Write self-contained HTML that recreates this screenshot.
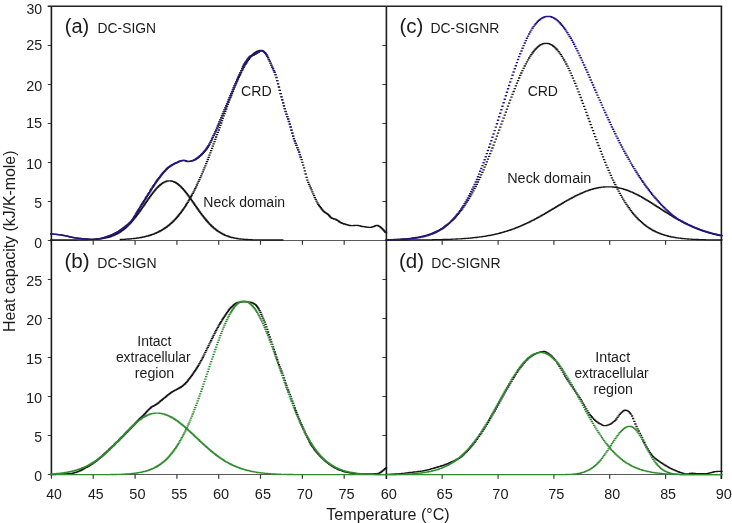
<!DOCTYPE html>
<html><head><meta charset="utf-8"><style>
html,body{margin:0;padding:0;background:#fff;overflow:hidden;width:732px;height:523px;}
svg{display:block;}
text{font-family:"Liberation Sans",sans-serif;fill:#1a1a1a;}
</style></head><body>
<svg width="732" height="523" viewBox="0 0 732 523">
<rect width="732" height="523" fill="#fff"/>
<path d="M51.4 240.5H721.4M51.4 474.5H721.4" stroke="#5a5a5a" stroke-width="1.05" fill="none"/>
<path d="M47.8 240.5H51.4M47.8 201.5H51.4M47.8 162.5H51.4M47.8 123.5H51.4M47.8 84.5H51.4M47.8 45.5H51.4M47.8 6.5H51.4M47.8 474.5H51.4M47.8 435.5H51.4M47.8 396.5H51.4M47.8 357.5H51.4M47.8 318.5H51.4M47.8 279.5H51.4M47.8 240.5H51.4M382.4 201.5H386.4M382.4 162.5H386.4M382.4 123.5H386.4M382.4 84.5H386.4M382.4 45.5H386.4M382.4 435.5H386.4M382.4 396.5H386.4M382.4 357.5H386.4M382.4 318.5H386.4M382.4 279.5H386.4M51.4 240.5V244.7M93.2 240.5V244.7M135.1 240.5V244.7M176.9 240.5V244.7M218.7 240.5V244.7M260.5 240.5V244.7M302.4 240.5V244.7M344.2 240.5V244.7M442.2 240.5V244.7M498.1 240.5V244.7M553.9 240.5V244.7M609.7 240.5V244.7M665.6 240.5V244.7M721.4 240.5V244.7M51.4 474.5V478.7M93.2 474.5V478.7M135.1 474.5V478.7M176.9 474.5V478.7M218.7 474.5V478.7M260.5 474.5V478.7M302.4 474.5V478.7M344.2 474.5V478.7M442.2 474.5V478.7M498.1 474.5V478.7M553.9 474.5V478.7M609.7 474.5V478.7M665.6 474.5V478.7M721.4 474.5V478.7" stroke="#3a3a3a" stroke-width="1.2" fill="none"/>
<path d="M51.4 6.3V475.0M386.4 6.3V478.9M721.4 6.3V478.9" stroke="#1c1c1c" stroke-width="1.6" fill="none"/>
<path d="M47.8 6.3H722.1999999999999" stroke="#222" stroke-width="1.5" fill="none"/>
<path d="M50.2 234.0h2.3M51.1 234.1h2.3M51.9 234.1h2.3M52.8 234.2h2.3M53.6 234.2h2.3M54.4 234.3h2.3M55.3 234.4h2.3M56.1 234.5h2.3M56.9 234.6h2.3M57.8 234.7h2.3M58.6 234.8h2.3M59.5 234.9h2.3M60.3 235.0h2.3M61.1 235.2h2.3M62.0 235.3h2.3M62.8 235.5h2.3M63.6 235.6h2.3M64.5 235.8h2.3M65.3 236.0h2.3M66.1 236.2h2.3M67.0 236.4h2.3M67.8 236.6h2.3M68.7 236.8h2.3M69.5 237.0h2.3M70.3 237.2h2.3M71.2 237.4h2.3M72.0 237.5h2.3M72.8 237.7h2.3M73.7 237.8h2.3M74.5 237.9h2.3M75.3 238.0h2.3M76.2 238.1h2.3M77.0 238.2h2.3M77.9 238.3h2.3M78.7 238.4h2.3M79.5 238.5h2.3M80.4 238.6h2.3M81.2 238.7h2.3M82.0 238.8h2.3M82.9 238.8h2.3M83.7 238.9h2.3M84.5 238.9h2.3M85.4 239.0h2.3M86.2 239.1h2.3M87.1 239.1h2.3M87.9 239.2h2.3M88.7 239.2h2.3M89.6 239.3h2.3M90.4 239.3h2.3M91.2 239.3h2.3M92.1 239.3h2.3M92.9 239.3h2.3M93.7 239.2h2.3M94.6 239.1h2.3M95.4 239.1h2.3M96.3 239.0h2.3M97.1 238.9h2.3M97.9 238.8h2.3M98.8 238.6h2.3M99.6 238.5h2.3M100.4 238.3h2.3M101.3 238.1h2.3M102.1 237.9h2.3M102.9 237.7h2.3M103.8 237.4h2.3M104.6 237.1h2.3M105.5 236.8h2.3M106.3 236.5h2.3M107.1 236.2h2.3M108.0 235.9h2.3M108.8 235.6h2.3M109.6 235.3h2.3M110.5 234.9h2.3M111.3 234.6h2.3M112.2 234.2h2.3M113.0 233.8h2.3M113.8 233.4h2.3M114.7 233.0h2.3M115.5 232.6h2.3M116.3 232.1h2.3M117.2 231.6h2.3M118.0 231.1h2.3M118.8 230.5h2.3M119.7 230.0h2.3M120.5 229.4h2.3M121.4 228.7h2.3M122.2 228.1h2.3M123.0 227.5h2.3M123.9 226.8h2.3M124.7 226.2h2.3M125.5 225.5h2.3M126.4 224.9h2.3M127.2 224.2h2.3M128.0 223.4h2.3M128.9 222.6h2.3M129.7 221.7h2.3M130.6 220.8h2.3M131.4 219.6h2.3M132.2 218.4h2.3M133.1 217.0h2.3M133.9 215.6h2.3M134.7 214.2h2.3M135.6 212.8h2.3M136.4 211.4h2.3M137.2 210.1h2.3M138.1 208.8h2.3M138.9 207.4h2.3M139.8 206.1h2.3M140.6 204.7h2.3M141.4 203.4h2.3M142.3 202.0h2.3M143.1 200.7h2.3M143.9 199.3h2.3M144.8 198.0h2.3M145.6 196.6h2.3M146.4 195.3h2.3M147.3 193.9h2.3M148.1 192.6h2.3M149.0 191.2h2.3M149.8 189.9h2.3M150.6 188.6h2.3M151.5 187.3h2.3M152.3 186.0h2.3M153.1 184.8h2.3M154.0 183.5h2.3M154.8 182.3h2.3M155.6 181.1h2.3M156.5 179.9h2.3M157.3 178.8h2.3M158.2 177.6h2.3M159.0 176.6h2.3M159.8 175.5h2.3M160.7 174.5h2.3M161.5 173.5h2.3M162.3 172.5h2.3M163.2 171.5h2.3M164.0 170.6h2.3M164.9 169.7h2.3M165.7 168.9h2.3M166.5 168.1h2.3M167.4 167.4h2.3M168.2 166.8h2.3M169.0 166.2h2.3M169.9 165.7h2.3M170.7 165.1h2.3M171.5 164.6h2.3M172.4 164.2h2.3M173.2 163.7h2.3M174.1 163.3h2.3M174.9 162.9h2.3M175.7 162.6h2.3M176.6 162.2h2.3M177.4 161.8h2.3M178.2 161.4h2.3M179.1 161.1h2.3M179.9 160.8h2.3M180.7 160.6h2.3M181.6 160.5h2.3M182.4 160.4h2.3M183.3 160.5h2.3M184.1 160.7h2.3M184.9 161.0h2.3M185.8 161.3h2.3M186.6 161.5h2.3M187.4 161.5h2.3M188.3 161.4h2.3M189.1 161.3h2.3M189.9 161.1h2.3M190.8 160.8h2.3M191.6 160.6h2.3M192.5 160.3h2.3M193.3 159.9h2.3M194.1 159.5h2.3M195.0 159.0h2.3M195.8 158.4h2.3M196.6 157.8h2.3M197.5 157.1h2.3M198.3 156.4h2.3M199.1 155.7h2.3M200.0 154.9h2.3M200.8 154.1h2.3M201.7 153.3h2.3M202.5 152.4h2.3M203.3 151.4h2.3M204.2 150.4h2.3M205.0 149.4h2.3M205.8 148.2h2.3M206.7 147.0h2.3M207.5 145.6h2.3M208.3 144.1h2.3M209.2 142.4h2.3M210.0 140.7h2.3M210.9 139.0h2.3M211.7 137.3h2.3M212.5 135.5h2.3M213.4 133.8h2.3M214.2 131.9h2.3M215.0 130.1h2.3M215.9 128.1h2.3M216.7 126.0h2.3M217.6 124.0h2.3M218.4 121.9h2.3M219.2 119.8h2.3M220.1 117.8h2.3M220.9 115.8h2.3M221.7 113.8h2.3M222.6 111.8h2.3M223.4 109.8h2.3M224.2 107.8h2.3M225.1 105.9h2.3M225.9 103.9h2.3M226.8 101.9h2.3M227.6 99.9h2.3M228.4 97.9h2.3M229.3 95.9h2.3M230.1 93.9h2.3M230.9 91.9h2.3M231.8 89.8h2.3M232.6 87.8h2.3M233.4 85.8h2.3M234.3 83.8h2.3M235.1 81.9h2.3M236.0 80.0h2.3M236.8 78.1h2.3M237.6 76.3h2.3M238.5 74.5h2.3M239.3 72.7h2.3M240.1 70.7h2.3M241.0 68.7h2.3M241.8 66.9h2.3M242.6 65.2h2.3M243.5 63.8h2.3M244.3 62.4h2.3M245.2 61.2h2.3M246.0 60.1h2.3M246.8 59.0h2.3M247.7 57.9h2.3M248.5 56.9h2.3M249.3 56.2h2.3M250.2 55.8h2.3M251.0 55.5h2.3M251.8 55.2h2.3M252.7 54.9h2.3M253.5 54.4h2.3M254.4 53.9h2.3M255.2 53.4h2.3M256.0 52.9h2.3M256.9 52.4h2.3M257.7 51.9h2.3M258.5 51.4h2.3M259.4 51.0h2.3M260.2 50.7h2.3M261.0 50.7h2.3M261.9 51.1h2.3M262.7 51.7h2.3M263.6 52.5h2.3M264.4 53.4h2.3M265.2 54.6h2.3M266.1 56.1h2.3M266.9 57.7h2.3M267.7 59.5h2.3M268.6 61.2h2.3M269.4 63.2h2.3M270.2 65.2h2.3M271.1 67.1h2.3M271.9 68.8h2.3M272.8 70.6h2.3M273.6 72.4h2.3M274.4 74.7h2.3M275.3 77.5h2.3M276.1 80.7h2.3M276.9 83.8h2.3M277.8 87.0h2.3M278.6 90.3h2.3M279.5 93.6h2.3M280.3 96.8h2.3M281.1 99.9h2.3M282.0 102.9h2.3M282.8 105.9h2.3M283.6 108.7h2.3M284.5 111.5h2.3M285.3 114.2h2.3M286.1 116.6h2.3M287.0 119.0h2.3M287.8 121.5h2.3M288.7 124.1h2.3M289.5 127.0h2.3M290.3 130.1h2.3M291.2 133.1h2.3M292.0 136.1h2.3M292.8 138.7h2.3M293.7 141.0h2.3M294.5 143.3h2.3M295.3 145.4h2.3M296.2 147.6h2.3M297.0 149.8h2.3M297.9 152.1h2.3M298.7 154.6h2.3M299.5 157.1h2.3M300.4 159.7h2.3M301.2 162.4h2.3M302.0 165.1h2.3M302.9 167.9h2.3M303.7 170.8h2.3M304.5 174.0h2.3M305.4 177.3h2.3M306.2 180.2h2.3M307.1 182.4h2.3M307.9 184.4h2.3M308.7 186.2h2.3M309.6 188.0h2.3M310.4 189.9h2.3M311.2 191.8h2.3M312.1 193.8h2.3M312.9 195.7h2.3M313.7 197.6h2.3M314.6 199.4h2.3M315.4 201.2h2.3M316.3 202.8h2.3M317.1 204.3h2.3M317.9 205.5h2.3M318.8 206.6h2.3M319.6 207.7h2.3M320.4 208.8h2.3M321.3 209.8h2.3M322.1 210.8h2.3M322.9 211.6h2.3M323.8 212.3h2.3M324.6 212.9h2.3M325.5 213.4h2.3M326.3 214.0h2.3M327.1 214.6h2.3M328.0 215.5h2.3M328.8 216.5h2.3M329.6 217.4h2.3M330.5 218.0h2.3M331.3 218.4h2.3M332.2 218.7h2.3M333.0 219.0h2.3M333.8 219.2h2.3M334.7 219.5h2.3M335.5 219.9h2.3M336.3 220.4h2.3M337.2 220.9h2.3M338.0 221.5h2.3M338.8 222.1h2.3M339.7 222.6h2.3M340.5 223.0h2.3M341.4 223.3h2.3M342.2 223.6h2.3M343.0 224.0h2.3M343.9 224.2h2.3M344.7 224.5h2.3M345.5 224.7h2.3M346.4 224.9h2.3M347.2 225.1h2.3M348.0 225.3h2.3M348.9 225.5h2.3M349.7 225.6h2.3M350.6 225.7h2.3M351.4 225.7h2.3M352.2 225.6h2.3M353.1 225.5h2.3M353.9 225.4h2.3M354.7 225.3h2.3M355.6 225.3h2.3M356.4 225.4h2.3M357.2 225.6h2.3M358.1 225.7h2.3M358.9 225.9h2.3M359.8 226.1h2.3M360.6 226.3h2.3M361.4 226.5h2.3M362.3 226.6h2.3M363.1 226.7h2.3M363.9 226.9h2.3M364.8 227.0h2.3M365.6 227.1h2.3M366.4 227.2h2.3M367.3 227.3h2.3M368.1 227.4h2.3M369.0 227.4h2.3M369.8 227.4h2.3M370.6 227.2h2.3M371.5 226.9h2.3M372.3 226.6h2.3M373.1 226.3h2.3M374.0 225.9h2.3M374.8 225.7h2.3M375.6 225.5h2.3M376.5 225.5h2.3M377.3 225.8h2.3M378.2 226.3h2.3M379.0 226.9h2.3M379.8 227.6h2.3M380.7 228.3h2.3M381.5 229.1h2.3M382.3 230.0h2.3M383.2 231.0h2.3M384.0 232.0h2.3M384.9 232.5h2.3" stroke="#161616" stroke-width="1.3" fill="none"/>
<path d="M50.2 240.0h2.3M51.1 240.0h2.3M51.9 240.0h2.3M52.8 240.0h2.3M53.6 240.0h2.3M54.4 240.0h2.3M55.3 240.0h2.3M56.1 240.0h2.3M56.9 240.0h2.3M57.8 240.0h2.3M58.6 240.0h2.3M59.5 240.0h2.3M60.3 240.0h2.3M61.1 240.0h2.3M62.0 240.0h2.3M62.8 240.0h2.3M63.6 240.0h2.3M64.5 240.0h2.3M65.3 240.0h2.3M66.1 240.0h2.3M67.0 240.0h2.3M67.8 240.0h2.3M68.7 240.0h2.3M69.5 240.0h2.3M70.3 240.0h2.3M71.2 240.0h2.3M72.0 240.0h2.3M72.8 240.0h2.3M73.7 240.0h2.3M74.5 240.0h2.3M75.3 240.0h2.3M76.2 239.9h2.3M77.0 239.9h2.3M77.9 239.9h2.3M78.7 239.9h2.3M79.5 239.9h2.3M80.4 239.9h2.3M81.2 239.9h2.3M82.0 239.9h2.3M82.9 239.9h2.3M83.7 239.8h2.3M84.5 239.8h2.3M85.4 239.8h2.3M86.2 239.8h2.3M87.1 239.7h2.3M87.9 239.7h2.3M88.7 239.7h2.3M89.6 239.6h2.3M90.4 239.6h2.3M91.2 239.5h2.3M92.1 239.5h2.3M92.9 239.4h2.3M93.7 239.4h2.3M94.6 239.3h2.3M95.4 239.2h2.3M96.3 239.2h2.3M97.1 239.1h2.3M97.9 239.0h2.3M98.8 238.9h2.3M99.6 238.8h2.3M100.4 238.7h2.3M101.3 238.5h2.3M102.1 238.4h2.3M102.9 238.2h2.3M103.8 238.1h2.3M104.6 237.9h2.3M105.5 237.7h2.3M106.3 237.5h2.3M107.1 237.3h2.3M108.0 237.0h2.3M108.8 236.8h2.3M109.6 236.5h2.3M110.5 236.2h2.3M111.3 235.9h2.3M112.2 235.6h2.3M113.0 235.2h2.3M113.8 234.8h2.3M114.7 234.4h2.3M115.5 234.0h2.3M116.3 233.6h2.3M117.2 233.1h2.3M118.0 232.6h2.3M118.8 232.1h2.3M119.7 231.5h2.3M120.5 230.9h2.3M121.4 230.3h2.3M122.2 229.7h2.3M123.0 229.0h2.3M123.9 228.3h2.3M124.7 227.6h2.3M125.5 226.9h2.3M126.4 226.1h2.3M127.2 225.2h2.3M128.0 224.4h2.3M128.9 223.5h2.3M129.7 222.6h2.3M130.6 221.7h2.3M131.4 220.7h2.3M132.2 219.7h2.3M133.1 218.7h2.3M133.9 217.7h2.3M134.7 216.6h2.3M135.6 215.5h2.3M136.4 214.4h2.3M137.2 213.3h2.3M138.1 212.1h2.3M138.9 211.0h2.3M139.8 209.8h2.3M140.6 208.6h2.3M141.4 207.4h2.3M142.3 206.2h2.3M143.1 205.0h2.3M143.9 203.8h2.3M144.8 202.5h2.3M145.6 201.3h2.3M146.4 200.1h2.3M147.3 198.9h2.3M148.1 197.8h2.3M149.0 196.6h2.3M149.8 195.4h2.3M150.6 194.3h2.3M151.5 193.2h2.3M152.3 192.2h2.3M153.1 191.1h2.3M154.0 190.1h2.3M154.8 189.2h2.3M155.6 188.2h2.3M156.5 187.4h2.3M157.3 186.5h2.3M158.2 185.7h2.3M159.0 185.0h2.3M159.8 184.3h2.3M160.7 183.7h2.3M161.5 183.1h2.3M162.3 182.6h2.3M163.2 182.2h2.3M164.0 181.8h2.3M164.9 181.5h2.3M165.7 181.2h2.3M166.5 181.0h2.3M167.4 180.9h2.3M168.2 180.9h2.3M169.0 180.9h2.3M169.9 181.0h2.3M170.7 181.1h2.3M171.5 181.4h2.3M172.4 181.6h2.3M173.2 182.0h2.3M174.1 182.4h2.3M174.9 182.9h2.3M175.7 183.4h2.3M176.6 184.0h2.3M177.4 184.6h2.3M178.2 185.3h2.3M179.1 186.1h2.3M179.9 186.9h2.3M180.7 187.8h2.3M181.6 188.7h2.3M182.4 189.6h2.3M183.3 190.6h2.3M184.1 191.6h2.3M184.9 192.6h2.3M185.8 193.7h2.3M186.6 194.8h2.3M187.4 195.9h2.3M188.3 197.1h2.3M189.1 198.2h2.3M189.9 199.4h2.3M190.8 200.6h2.3M191.6 201.8h2.3M192.5 203.0h2.3M193.3 204.2h2.3M194.1 205.4h2.3M195.0 206.6h2.3M195.8 207.8h2.3M196.6 209.0h2.3M197.5 210.2h2.3M198.3 211.4h2.3M199.1 212.5h2.3M200.0 213.7h2.3M200.8 214.8h2.3M201.7 215.9h2.3M202.5 216.9h2.3M203.3 218.0h2.3M204.2 219.0h2.3M205.0 220.0h2.3M205.8 221.0h2.3M206.7 222.0h2.3M207.5 222.9h2.3M208.3 223.8h2.3M209.2 224.6h2.3M210.0 225.5h2.3M210.9 226.3h2.3M211.7 227.0h2.3M212.5 227.8h2.3M213.4 228.5h2.3M214.2 229.2h2.3M215.0 229.8h2.3M215.9 230.5h2.3M216.7 231.1h2.3M217.6 231.6h2.3M218.4 232.2h2.3M219.2 232.7h2.3M220.1 233.2h2.3M220.9 233.7h2.3M221.7 234.1h2.3M222.6 234.5h2.3M223.4 234.9h2.3M224.2 235.3h2.3M225.1 235.6h2.3M225.9 235.9h2.3M226.8 236.2h2.3M227.6 236.5h2.3M228.4 236.8h2.3M229.3 237.1h2.3M230.1 237.3h2.3M230.9 237.5h2.3M231.8 237.7h2.3M232.6 237.9h2.3M233.4 238.1h2.3M234.3 238.2h2.3M235.1 238.4h2.3M236.0 238.5h2.3M236.8 238.7h2.3M237.6 238.8h2.3M238.5 238.9h2.3M239.3 239.0h2.3M240.1 239.1h2.3M241.0 239.2h2.3M241.8 239.2h2.3M242.6 239.3h2.3M243.5 239.4h2.3M244.3 239.4h2.3M245.2 239.5h2.3M246.0 239.5h2.3M246.8 239.6h2.3M247.7 239.6h2.3M248.5 239.7h2.3M249.3 239.7h2.3M250.2 239.7h2.3M251.0 239.8h2.3M251.8 239.8h2.3M252.7 239.8h2.3M253.5 239.8h2.3M254.4 239.9h2.3M255.2 239.9h2.3M256.0 239.9h2.3M256.9 239.9h2.3M257.7 239.9h2.3M258.5 239.9h2.3M259.4 239.9h2.3M260.2 239.9h2.3M261.0 239.9h2.3M261.9 239.9h2.3M262.7 240.0h2.3M263.6 240.0h2.3M264.4 240.0h2.3M265.2 240.0h2.3M266.1 240.0h2.3M266.9 240.0h2.3M267.7 240.0h2.3M268.6 240.0h2.3M269.4 240.0h2.3M270.2 240.0h2.3M271.1 240.0h2.3M271.9 240.0h2.3M272.8 240.0h2.3M273.6 240.0h2.3M274.4 240.0h2.3M275.3 240.0h2.3M276.1 240.0h2.3M276.9 240.0h2.3M277.8 240.0h2.3M278.6 240.0h2.3M279.5 240.0h2.3M280.3 240.0h2.3M281.1 240.0h2.3" stroke="#161616" stroke-width="1.3" fill="none"/>
<path d="M119.7 239.5h2.3M120.5 239.4h2.3M121.4 239.4h2.3M122.2 239.3h2.3M123.0 239.3h2.3M123.9 239.3h2.3M124.7 239.2h2.3M125.5 239.1h2.3M126.4 239.1h2.3M127.2 239.0h2.3M128.0 239.0h2.3M128.9 238.9h2.3M129.7 238.8h2.3M130.6 238.7h2.3M131.4 238.6h2.3M132.2 238.6h2.3M133.1 238.5h2.3M133.9 238.4h2.3M134.7 238.3h2.3M135.6 238.1h2.3M136.4 238.0h2.3M137.2 237.9h2.3M138.1 237.8h2.3M138.9 237.6h2.3M139.8 237.5h2.3M140.6 237.3h2.3M141.4 237.2h2.3M142.3 237.0h2.3M143.1 236.8h2.3M143.9 236.6h2.3M144.8 236.4h2.3M145.6 236.2h2.3M146.4 236.0h2.3M147.3 235.8h2.3M148.1 235.5h2.3M149.0 235.3h2.3M149.8 235.0h2.3M150.6 234.7h2.3M151.5 234.4h2.3M152.3 234.1h2.3M153.1 233.8h2.3M154.0 233.4h2.3M154.8 233.1h2.3M155.6 232.7h2.3M156.5 232.3h2.3M157.3 231.9h2.3M158.2 231.5h2.3M159.0 231.0h2.3M159.8 230.6h2.3M160.7 230.1h2.3M161.5 229.6h2.3M162.3 229.1h2.3M163.2 228.5h2.3M164.0 228.0h2.3M164.9 227.4h2.3M165.7 226.8h2.3M166.5 226.1h2.3M167.4 225.5h2.3M168.2 224.8h2.3M169.0 224.1h2.3M169.9 223.4h2.3M170.7 222.6h2.3M171.5 221.8h2.3M172.4 221.0h2.3M173.2 220.1h2.3M174.1 219.3h2.3M174.9 218.4h2.3M175.7 217.4h2.3M176.6 216.5h2.3M177.4 215.5h2.3M178.2 214.4h2.3M179.1 213.4h2.3M179.9 212.3h2.3M180.7 211.2h2.3M181.6 210.0h2.3M182.4 208.8h2.3M183.3 207.6h2.3M184.1 206.3h2.3M184.9 205.0h2.3M185.8 203.7h2.3M186.6 202.3h2.3M187.4 200.9h2.3M188.3 199.5h2.3M189.1 198.0h2.3M189.9 196.5h2.3M190.8 195.0h2.3M191.6 193.4h2.3M192.5 191.8h2.3M193.3 190.2h2.3M194.1 188.5h2.3M195.0 186.8h2.3M195.8 185.0h2.3M196.6 183.2h2.3M197.5 181.4h2.3M198.3 179.6h2.3M199.1 177.7h2.3M200.0 175.8h2.3M200.8 173.9h2.3M201.7 171.9h2.3M202.5 169.9h2.3M203.3 167.8h2.3M204.2 165.8h2.3M205.0 163.7h2.3M205.8 161.6h2.3M206.7 159.5h2.3M207.5 157.3h2.3M208.3 155.1h2.3M209.2 152.9h2.3M210.0 150.7h2.3M210.9 148.4h2.3M211.7 146.2h2.3M212.5 143.9h2.3M213.4 141.6h2.3M214.2 139.3h2.3M215.0 137.0h2.3M215.9 134.7h2.3M216.7 132.3h2.3M217.6 130.0h2.3M218.4 127.6h2.3M219.2 125.3h2.3M220.1 123.0h2.3M220.9 120.6h2.3M221.7 118.3h2.3M222.6 115.9h2.3M223.4 113.6h2.3M224.2 111.3h2.3M225.1 109.0h2.3M225.9 106.7h2.3M226.8 104.4h2.3M227.6 102.2h2.3M228.4 99.9h2.3M229.3 97.7h2.3M230.1 95.5h2.3M230.9 93.4h2.3M231.8 91.3h2.3M232.6 89.2h2.3M233.4 87.1h2.3M234.3 85.1h2.3M235.1 83.1h2.3M236.0 81.1h2.3M236.8 79.2h2.3M237.6 77.4h2.3M238.5 75.6h2.3M239.3 73.8h2.3M240.1 72.1h2.3M241.0 70.4h2.3M241.8 68.8h2.3M242.6 67.3h2.3M243.5 65.8h2.3M244.3 64.3h2.3M245.2 63.0h2.3M246.0 61.7h2.3M246.8 60.4h2.3M247.7 59.3h2.3M248.5 58.1h2.3M249.3 57.1h2.3M250.2 56.1h2.3M251.0 55.3h2.3M251.8 54.4h2.3M252.7 53.7h2.3M253.5 53.0h2.3M254.4 52.4h2.3M255.2 51.9h2.3M256.0 51.4h2.3M256.9 51.1h2.3M257.7 50.8h2.3M258.5 50.6h2.3M259.4 50.5h2.3M260.2 50.4h2.3" stroke="#161616" stroke-width="1.3" fill="none"/>
<path d="M50.2 234.0h2.3M51.1 234.1h2.3M51.9 234.1h2.3M52.8 234.2h2.3M53.6 234.2h2.3M54.4 234.3h2.3M55.3 234.4h2.3M56.1 234.5h2.3M56.9 234.6h2.3M57.8 234.7h2.3M58.6 234.8h2.3M59.5 234.9h2.3M60.3 235.0h2.3M61.1 235.2h2.3M62.0 235.3h2.3M62.8 235.5h2.3M63.6 235.6h2.3M64.5 235.8h2.3M65.3 236.0h2.3M66.1 236.2h2.3M67.0 236.4h2.3M67.8 236.6h2.3M68.7 236.8h2.3M69.5 237.0h2.3M70.3 237.2h2.3M71.2 237.4h2.3M72.0 237.5h2.3M72.8 237.7h2.3M73.7 237.8h2.3M74.5 237.9h2.3M75.3 238.0h2.3M76.2 238.1h2.3M77.0 238.2h2.3M77.9 238.3h2.3M78.7 238.4h2.3M79.5 238.5h2.3M80.4 238.6h2.3M81.2 238.7h2.3M82.0 238.8h2.3M82.9 238.8h2.3M83.7 238.9h2.3M84.5 238.9h2.3M85.4 239.0h2.3M86.2 239.1h2.3M87.1 239.1h2.3M87.9 239.2h2.3M88.7 239.2h2.3M89.6 239.3h2.3M90.4 239.3h2.3M91.2 239.3h2.3M92.1 239.3h2.3M92.9 239.3h2.3M93.7 239.2h2.3M94.6 239.1h2.3M95.4 239.1h2.3M96.3 239.0h2.3M97.1 238.9h2.3M97.9 238.8h2.3M98.8 238.6h2.3M99.6 238.5h2.3M100.4 238.3h2.3M101.3 238.1h2.3M102.1 237.9h2.3M102.9 237.7h2.3M103.8 237.4h2.3M104.6 237.1h2.3M105.5 236.8h2.3M106.3 236.5h2.3M107.1 236.2h2.3M108.0 235.9h2.3M108.8 235.6h2.3M109.6 235.3h2.3M110.5 234.9h2.3M111.3 234.6h2.3M112.2 234.2h2.3M113.0 233.8h2.3M113.8 233.4h2.3M114.7 233.0h2.3M115.5 232.6h2.3M116.3 232.1h2.3M117.2 231.6h2.3M118.0 231.1h2.3M118.8 230.5h2.3M119.7 230.0h2.3M120.5 229.4h2.3M121.4 228.7h2.3M122.2 228.1h2.3M123.0 227.5h2.3M123.9 226.8h2.3M124.7 226.2h2.3M125.5 225.5h2.3M126.4 224.9h2.3M127.2 224.2h2.3M128.0 223.4h2.3M128.9 222.6h2.3M129.7 221.7h2.3M130.6 220.8h2.3M131.4 219.6h2.3M132.2 218.4h2.3M133.1 217.0h2.3M133.9 215.6h2.3M134.7 214.2h2.3M135.6 212.8h2.3M136.4 211.4h2.3M137.2 210.1h2.3M138.1 208.8h2.3M138.9 207.4h2.3M139.8 206.1h2.3M140.6 204.7h2.3M141.4 203.4h2.3M142.3 202.0h2.3M143.1 200.7h2.3M143.9 199.3h2.3M144.8 198.0h2.3M145.6 196.6h2.3M146.4 195.3h2.3M147.3 193.9h2.3M148.1 192.6h2.3M149.0 191.2h2.3M149.8 189.9h2.3M150.6 188.6h2.3M151.5 187.3h2.3M152.3 186.0h2.3M153.1 184.8h2.3M154.0 183.5h2.3M154.8 182.3h2.3M155.6 181.1h2.3M156.5 179.9h2.3M157.3 178.8h2.3M158.2 177.6h2.3M159.0 176.6h2.3M159.8 175.5h2.3M160.7 174.5h2.3M161.5 173.5h2.3M162.3 172.5h2.3M163.2 171.5h2.3M164.0 170.6h2.3M164.9 169.7h2.3M165.7 168.9h2.3M166.5 168.1h2.3M167.4 167.4h2.3M168.2 166.8h2.3M169.0 166.2h2.3M169.9 165.7h2.3M170.7 165.1h2.3M171.5 164.6h2.3M172.4 164.2h2.3M173.2 163.7h2.3M174.1 163.3h2.3M174.9 162.9h2.3M175.7 162.6h2.3M176.6 162.2h2.3M177.4 161.8h2.3M178.2 161.4h2.3M179.1 161.1h2.3M179.9 160.8h2.3M180.7 160.6h2.3M181.6 160.5h2.3M182.4 160.4h2.3M183.3 160.5h2.3M184.1 160.7h2.3M184.9 161.0h2.3M185.8 161.3h2.3M186.6 161.5h2.3M187.4 161.5h2.3M188.3 161.4h2.3M189.1 161.3h2.3M189.9 161.1h2.3M190.8 160.8h2.3M191.6 160.6h2.3M192.5 160.3h2.3M193.3 159.9h2.3M194.1 159.5h2.3M195.0 159.0h2.3M195.8 158.4h2.3M196.6 157.8h2.3M197.5 157.1h2.3M198.3 156.4h2.3M199.1 155.7h2.3M200.0 154.9h2.3M200.8 154.1h2.3M201.7 153.3h2.3M202.5 152.4h2.3M203.3 151.4h2.3M204.2 150.4h2.3M205.0 149.4h2.3M205.8 148.2h2.3M206.7 147.0h2.3M207.5 145.6h2.3M208.3 144.1h2.3M209.2 142.4h2.3M210.0 140.7h2.3M210.9 139.0h2.3M211.7 137.3h2.3M212.5 135.5h2.3M213.4 133.8h2.3M214.2 131.9h2.3M215.0 130.1h2.3M215.9 128.1h2.3M216.7 126.0h2.3M217.6 124.0h2.3M218.4 121.9h2.3M219.2 119.8h2.3M220.1 117.8h2.3M220.9 115.8h2.3M221.7 113.8h2.3M222.6 111.8h2.3M223.4 109.8h2.3M224.2 107.8h2.3M225.1 105.9h2.3M225.9 103.9h2.3M226.8 101.9h2.3M227.6 99.9h2.3M228.4 97.9h2.3M229.3 95.9h2.3M230.1 93.9h2.3M230.9 91.9h2.3M231.8 89.8h2.3M232.6 87.8h2.3M233.4 85.8h2.3M234.3 83.8h2.3M235.1 81.9h2.3M236.0 80.0h2.3M236.8 78.1h2.3M237.6 76.3h2.3M238.5 74.5h2.3M239.3 72.7h2.3M240.1 70.7h2.3M241.0 68.7h2.3M241.8 66.9h2.3M242.6 65.2h2.3M243.5 63.8h2.3M244.3 62.4h2.3M245.2 61.2h2.3M246.0 60.1h2.3M246.8 59.0h2.3M247.7 57.9h2.3M248.5 56.9h2.3M249.3 56.2h2.3M250.2 55.8h2.3M251.0 55.5h2.3M251.8 55.2h2.3M252.7 54.9h2.3M253.5 54.4h2.3M254.4 53.9h2.3M255.2 53.4h2.3M256.0 52.9h2.3M256.9 52.4h2.3M257.7 51.9h2.3M258.5 51.4h2.3M259.4 51.0h2.3M260.2 50.7h2.3M261.0 50.7h2.3M261.9 51.1h2.3M262.7 51.7h2.3M263.6 52.5h2.3M264.4 53.4h2.3M265.2 54.6h2.3M266.1 56.1h2.3M266.9 57.7h2.3M267.7 59.5h2.3M268.6 61.2h2.3M269.4 63.2h2.3M270.2 65.2h2.3M271.1 67.1h2.3M271.9 68.8h2.3M272.8 70.6h2.3M273.6 72.4h2.3M274.4 74.7h2.3M275.3 77.5h2.3M276.1 80.7h2.3M276.9 83.8h2.3M277.8 87.0h2.3M278.6 90.3h2.3M279.5 93.6h2.3M280.3 96.8h2.3M281.1 99.9h2.3M282.0 102.9h2.3M282.8 105.9h2.3M283.6 108.7h2.3M284.5 111.5h2.3M285.3 114.2h2.3M286.1 116.6h2.3M287.0 119.0h2.3M287.8 121.5h2.3M288.7 124.1h2.3M289.5 127.0h2.3M290.3 130.1h2.3M291.2 133.1h2.3M292.0 136.1h2.3M292.8 138.7h2.3M293.7 141.0h2.3M294.5 143.3h2.3M295.3 145.4h2.3M296.2 147.6h2.3M297.0 149.8h2.3M297.9 152.1h2.3M298.7 154.6h2.3M299.5 157.1h2.3" stroke="#24148a" stroke-width="1.1" fill="none"/>
<path d="M385.2 240.0h2.3M386.4 240.0h2.3M387.5 240.0h2.3M388.6 240.0h2.3M389.7 240.0h2.3M390.8 240.0h2.3M392.0 240.0h2.3M393.1 240.0h2.3M394.2 240.0h2.3M395.3 240.0h2.3M396.4 240.0h2.3M397.5 240.0h2.3M398.7 240.0h2.3M399.8 240.0h2.3M400.9 240.0h2.3M402.0 240.0h2.3M403.1 240.0h2.3M404.2 240.0h2.3M405.4 240.0h2.3M406.5 240.0h2.3M407.6 239.9h2.3M408.7 239.9h2.3M409.8 239.9h2.3M410.9 239.9h2.3M412.1 239.9h2.3M413.2 239.9h2.3M414.3 239.9h2.3M415.4 239.9h2.3M416.5 239.9h2.3M417.6 239.9h2.3M418.8 239.9h2.3M419.9 239.9h2.3M421.0 239.9h2.3M422.1 239.9h2.3M423.2 239.8h2.3M424.3 239.8h2.3M425.5 239.8h2.3M426.6 239.8h2.3M427.7 239.8h2.3M428.8 239.8h2.3M429.9 239.8h2.3M431.0 239.8h2.3M432.2 239.7h2.3M433.3 239.7h2.3M434.4 239.7h2.3M435.5 239.7h2.3M436.6 239.7h2.3M437.7 239.6h2.3M438.9 239.6h2.3M440.0 239.6h2.3M441.1 239.6h2.3M442.2 239.5h2.3M443.3 239.5h2.3M444.4 239.5h2.3M445.6 239.4h2.3M446.7 239.4h2.3M447.8 239.3h2.3M448.9 239.3h2.3M450.0 239.3h2.3M451.1 239.2h2.3M452.3 239.2h2.3M453.4 239.1h2.3M454.5 239.1h2.3M455.6 239.0h2.3M456.7 238.9h2.3M457.8 238.9h2.3M459.0 238.8h2.3M460.1 238.8h2.3M461.2 238.7h2.3M462.3 238.6h2.3M463.4 238.5h2.3M464.5 238.4h2.3M465.7 238.3h2.3M466.8 238.3h2.3M467.9 238.2h2.3M469.0 238.1h2.3M470.1 238.0h2.3M471.2 237.8h2.3M472.4 237.7h2.3M473.5 237.6h2.3M474.6 237.5h2.3M475.7 237.3h2.3M476.8 237.2h2.3M477.9 237.1h2.3M479.1 236.9h2.3M480.2 236.8h2.3M481.3 236.6h2.3M482.4 236.4h2.3M483.5 236.3h2.3M484.6 236.1h2.3M485.8 235.9h2.3M486.9 235.7h2.3M488.0 235.5h2.3M489.1 235.3h2.3M490.2 235.1h2.3M491.3 234.8h2.3M492.5 234.6h2.3M493.6 234.3h2.3M494.7 234.1h2.3M495.8 233.8h2.3M496.9 233.6h2.3M498.0 233.3h2.3M499.2 233.0h2.3M500.3 232.7h2.3M501.4 232.4h2.3M502.5 232.1h2.3M503.6 231.7h2.3M504.7 231.4h2.3M505.9 231.1h2.3M507.0 230.7h2.3M508.1 230.3h2.3M509.2 230.0h2.3M510.3 229.6h2.3M511.4 229.2h2.3M512.6 228.8h2.3M513.7 228.4h2.3M514.8 227.9h2.3M515.9 227.5h2.3M517.0 227.1h2.3M518.1 226.6h2.3M519.3 226.1h2.3M520.4 225.7h2.3M521.5 225.2h2.3M522.6 224.7h2.3M523.7 224.2h2.3M524.8 223.7h2.3M526.0 223.1h2.3M527.1 222.6h2.3M528.2 222.1h2.3M529.3 221.5h2.3M530.4 220.9h2.3M531.5 220.4h2.3M532.7 219.8h2.3M533.8 219.2h2.3M534.9 218.6h2.3M536.0 218.0h2.3M537.1 217.4h2.3M538.2 216.8h2.3M539.4 216.2h2.3M540.5 215.5h2.3M541.6 214.9h2.3M542.7 214.3h2.3M543.8 213.6h2.3M544.9 213.0h2.3M546.1 212.3h2.3M547.2 211.7h2.3M548.3 211.0h2.3M549.4 210.3h2.3M550.5 209.7h2.3M551.6 209.0h2.3M552.8 208.3h2.3M553.9 207.7h2.3M555.0 207.0h2.3M556.1 206.3h2.3M557.2 205.7h2.3M558.3 205.0h2.3M559.5 204.3h2.3M560.6 203.7h2.3M561.7 203.0h2.3M562.8 202.4h2.3M563.9 201.7h2.3M565.0 201.1h2.3M566.2 200.4h2.3M567.3 199.8h2.3M568.4 199.2h2.3M569.5 198.6h2.3M570.6 198.0h2.3M571.7 197.4h2.3M572.9 196.8h2.3M574.0 196.2h2.3M575.1 195.7h2.3M576.2 195.1h2.3M577.3 194.6h2.3M578.4 194.1h2.3M579.6 193.5h2.3M580.7 193.1h2.3M581.8 192.6h2.3M582.9 192.1h2.3M584.0 191.7h2.3M585.1 191.2h2.3M586.3 190.8h2.3M587.4 190.4h2.3M588.5 190.0h2.3M589.6 189.7h2.3M590.7 189.4h2.3M591.8 189.0h2.3M593.0 188.7h2.3M594.1 188.5h2.3M595.2 188.2h2.3M596.3 188.0h2.3M597.4 187.7h2.3M598.5 187.5h2.3M599.7 187.4h2.3M600.8 187.2h2.3M601.9 187.1h2.3M603.0 187.0h2.3M604.1 186.9h2.3M605.2 186.9h2.3M606.4 186.8h2.3M607.5 186.8h2.3M608.6 186.8h2.3M609.7 186.8h2.3M610.8 186.9h2.3M611.9 187.0h2.3M613.1 187.1h2.3M614.2 187.3h2.3M615.3 187.4h2.3M616.4 187.6h2.3M617.5 187.8h2.3M618.6 188.1h2.3M619.8 188.3h2.3M620.9 188.6h2.3M622.0 188.9h2.3M623.1 189.3h2.3M624.2 189.6h2.3M625.3 190.0h2.3M626.5 190.4h2.3M627.6 190.8h2.3M628.7 191.3h2.3M629.8 191.8h2.3M630.9 192.2h2.3M632.0 192.7h2.3M633.2 193.3h2.3M634.3 193.8h2.3M635.4 194.4h2.3M636.5 194.9h2.3M637.6 195.5h2.3M638.7 196.1h2.3M639.9 196.7h2.3M641.0 197.3h2.3M642.1 198.0h2.3M643.2 198.6h2.3M644.3 199.3h2.3M645.4 200.0h2.3M646.6 200.6h2.3M647.7 201.3h2.3M648.8 202.0h2.3M649.9 202.7h2.3M651.0 203.4h2.3M652.1 204.1h2.3M653.3 204.8h2.3M654.4 205.5h2.3M655.5 206.3h2.3M656.6 207.0h2.3M657.7 207.7h2.3M658.8 208.4h2.3M660.0 209.1h2.3M661.1 209.8h2.3M662.2 210.6h2.3M663.3 211.3h2.3M664.4 212.0h2.3M665.5 212.7h2.3M666.7 213.4h2.3M667.8 214.1h2.3M668.9 214.8h2.3M670.0 215.4h2.3M671.1 216.1h2.3M672.2 216.8h2.3M673.4 217.5h2.3M674.5 218.1h2.3M675.6 218.7h2.3M676.7 219.4h2.3M677.8 220.0h2.3M678.9 220.6h2.3M680.1 221.2h2.3M681.2 221.8h2.3M682.3 222.4h2.3M683.4 223.0h2.3M684.5 223.6h2.3M685.6 224.1h2.3M686.8 224.7h2.3M687.9 225.2h2.3M689.0 225.7h2.3M690.1 226.2h2.3M691.2 226.7h2.3M692.3 227.2h2.3M693.5 227.7h2.3M694.6 228.2h2.3M695.7 228.6h2.3M696.8 229.0h2.3M697.9 229.5h2.3M699.0 229.9h2.3M700.2 230.3h2.3M701.3 230.7h2.3M702.4 231.1h2.3M703.5 231.4h2.3M704.6 231.8h2.3M705.7 232.1h2.3M706.9 232.5h2.3M708.0 232.8h2.3M709.1 233.1h2.3M710.2 233.4h2.3M711.3 233.7h2.3M712.4 234.0h2.3M713.6 234.3h2.3M714.7 234.5h2.3M715.8 234.8h2.3M716.9 235.0h2.3M718.0 235.3h2.3M719.1 235.5h2.3M720.3 235.7h2.3" stroke="#161616" stroke-width="1.3" fill="none"/>
<path d="M386.3 239.7h2.3M387.5 239.7h2.3M388.6 239.7h2.3M389.7 239.6h2.3M390.8 239.6h2.3M391.9 239.6h2.3M393.1 239.5h2.3M394.2 239.5h2.3M395.3 239.4h2.3M396.4 239.4h2.3M397.5 239.3h2.3M398.6 239.3h2.3M399.8 239.2h2.3M400.9 239.1h2.3M402.0 239.0h2.3M403.1 239.0h2.3M404.2 238.9h2.3M405.3 238.8h2.3M406.5 238.7h2.3M407.6 238.6h2.3M408.7 238.5h2.3M409.8 238.3h2.3M410.9 238.2h2.3M412.0 238.0h2.3M413.2 237.9h2.3M414.3 237.7h2.3M415.4 237.5h2.3M416.5 237.3h2.3M417.6 237.1h2.3M418.7 236.9h2.3M419.9 236.7h2.3M421.0 236.4h2.3M422.1 236.2h2.3M423.2 235.9h2.3M424.3 235.6h2.3M425.4 235.3h2.3M426.6 234.9h2.3M427.7 234.6h2.3M428.8 234.2h2.3M429.9 233.8h2.3M431.0 233.4h2.3M432.1 232.9h2.3M433.3 232.4h2.3M434.4 231.9h2.3M435.5 231.4h2.3M436.6 230.9h2.3M437.7 230.3h2.3M438.8 229.6h2.3M440.0 229.0h2.3M441.1 228.3h2.3M442.2 227.6h2.3M443.3 226.8h2.3M444.4 226.0h2.3M445.5 225.2h2.3M446.7 224.3h2.3M447.8 223.4h2.3M448.9 222.4h2.3M450.0 221.4h2.3M451.1 220.4h2.3M452.2 219.3h2.3M453.4 218.1h2.3M454.5 216.9h2.3M455.6 215.7h2.3M456.7 214.4h2.3M457.8 213.1h2.3M458.9 211.7h2.3M460.1 210.3h2.3M461.2 208.8h2.3M462.3 207.2h2.3M463.4 205.6h2.3M464.5 203.9h2.3M465.6 202.2h2.3M466.8 200.5h2.3M467.9 198.6h2.3M469.0 196.7h2.3M470.1 194.8h2.3M471.2 192.8h2.3M472.3 190.8h2.3M473.4 188.6h2.3M474.6 186.5h2.3M475.7 184.3h2.3M476.8 182.0h2.3M477.9 179.7h2.3M479.0 177.3h2.3M480.1 174.8h2.3M481.3 172.3h2.3M482.4 169.8h2.3M483.5 167.2h2.3M484.6 164.6h2.3M485.7 161.9h2.3M486.8 159.2h2.3M488.0 156.4h2.3M489.1 153.6h2.3M490.2 150.8h2.3M491.3 148.0h2.3M492.4 145.1h2.3M493.5 142.1h2.3M494.7 139.2h2.3M495.8 136.2h2.3M496.9 133.2h2.3M498.0 130.2h2.3M499.1 127.2h2.3M500.2 124.2h2.3M501.3 121.1h2.3M502.5 118.1h2.3M503.6 115.1h2.3M504.7 112.1h2.3M505.8 109.1h2.3M506.9 106.1h2.3M508.0 103.1h2.3M509.1 100.1h2.3M510.3 97.2h2.3M511.4 94.3h2.3M512.5 91.5h2.3M513.6 88.7h2.3M514.7 85.9h2.3M515.8 83.2h2.3M516.9 80.6h2.3M518.0 78.0h2.3M519.1 75.4h2.3M520.2 73.0h2.3M521.3 70.6h2.3M522.5 68.3h2.3M523.6 66.0h2.3M524.7 63.9h2.3M525.8 61.8h2.3M526.9 59.9h2.3M528.0 58.0h2.3M529.1 56.2h2.3M530.2 54.6h2.3M531.3 53.0h2.3M532.4 51.5h2.3M533.5 50.2h2.3M534.6 49.0h2.3M535.7 47.9h2.3M536.7 46.9h2.3M537.8 46.0h2.3M538.9 45.2h2.3M540.0 44.6h2.3M541.1 44.1h2.3M542.2 43.7h2.3M543.3 43.5h2.3M544.4 43.3h2.3M545.5 43.3h2.3M546.6 43.5h2.3M547.7 43.7h2.3M548.8 44.1h2.3M549.9 44.6h2.3M550.9 45.2h2.3M552.0 46.0h2.3M553.1 46.9h2.3M554.2 47.9h2.3M555.3 49.0h2.3M556.4 50.2h2.3M557.5 51.6h2.3M558.6 53.1h2.3M559.7 54.6h2.3M560.8 56.3h2.3M561.9 58.1h2.3M563.0 60.0h2.3M564.1 61.9h2.3M565.2 64.0h2.3M566.3 66.2h2.3M567.4 68.4h2.3M568.5 70.7h2.3M569.6 73.1h2.3M570.7 75.6h2.3M571.8 78.2h2.3M573.0 80.8h2.3M574.1 83.4h2.3M575.2 86.2h2.3M576.3 88.9h2.3M577.4 91.8h2.3M578.5 94.6h2.3M579.6 97.5h2.3M580.7 100.5h2.3M581.8 103.4h2.3M583.0 106.4h2.3M584.1 109.4h2.3M585.2 112.4h2.3M586.3 115.5h2.3M587.4 118.5h2.3M588.5 121.5h2.3M589.6 124.6h2.3M590.7 127.6h2.3M591.9 130.6h2.3M593.0 133.7h2.3M594.1 136.7h2.3M595.2 139.6h2.3M596.3 142.6h2.3M597.4 145.5h2.3M598.6 148.4h2.3M599.7 151.3h2.3M600.8 154.1h2.3M601.9 156.9h2.3M603.0 159.7h2.3M604.1 162.4h2.3M605.2 165.1h2.3M606.4 167.7h2.3M607.5 170.3h2.3M608.6 172.8h2.3M609.7 175.3h2.3M610.8 177.8h2.3M611.9 180.1h2.3M613.1 182.5h2.3M614.2 184.7h2.3M615.3 187.0h2.3M616.4 189.1h2.3M617.5 191.2h2.3M618.6 193.3h2.3M619.8 195.3h2.3M620.9 197.2h2.3M622.0 199.1h2.3M623.1 200.9h2.3M624.2 202.7h2.3M625.3 204.4h2.3M626.5 206.0h2.3M627.6 207.6h2.3M628.7 209.2h2.3M629.8 210.6h2.3M630.9 212.1h2.3M632.0 213.5h2.3M633.2 214.8h2.3M634.3 216.1h2.3M635.4 217.3h2.3M636.5 218.5h2.3M637.6 219.6h2.3M638.7 220.7h2.3M639.9 221.7h2.3M641.0 222.7h2.3M642.1 223.7h2.3M643.2 224.6h2.3M644.3 225.4h2.3M645.4 226.3h2.3M646.6 227.1h2.3M647.7 227.8h2.3M648.8 228.5h2.3M649.9 229.2h2.3M651.0 229.8h2.3M652.1 230.5h2.3M653.3 231.0h2.3M654.4 231.6h2.3M655.5 232.1h2.3M656.6 232.6h2.3M657.7 233.1h2.3M658.8 233.5h2.3M660.0 233.9h2.3M661.1 234.3h2.3M662.2 234.7h2.3M663.3 235.1h2.3M664.4 235.4h2.3M665.5 235.7h2.3M666.7 236.0h2.3M667.8 236.3h2.3M668.9 236.5h2.3M670.0 236.8h2.3M671.1 237.0h2.3M672.2 237.2h2.3M673.4 237.4h2.3M674.5 237.6h2.3M675.6 237.8h2.3M676.7 237.9h2.3M677.8 238.1h2.3M678.9 238.2h2.3M680.1 238.4h2.3M681.2 238.5h2.3M682.3 238.6h2.3M683.4 238.7h2.3M684.5 238.8h2.3M685.6 238.9h2.3M686.8 239.0h2.3M687.9 239.1h2.3M689.0 239.2h2.3M690.1 239.2h2.3M691.2 239.3h2.3M692.3 239.3h2.3M693.5 239.4h2.3M694.6 239.4h2.3M695.7 239.5h2.3M696.8 239.5h2.3M697.9 239.6h2.3M699.0 239.6h2.3M700.2 239.6h2.3M701.3 239.7h2.3M702.4 239.7h2.3M703.5 239.7h2.3M704.6 239.8h2.3M705.7 239.8h2.3M706.9 239.8h2.3M708.0 239.8h2.3M709.1 239.8h2.3M710.2 239.8h2.3M711.3 239.9h2.3M712.4 239.9h2.3M713.6 239.9h2.3M714.7 239.9h2.3M715.8 239.9h2.3M716.9 239.9h2.3M718.0 239.9h2.3M719.1 239.9h2.3M720.3 239.9h2.3" stroke="#161616" stroke-width="1.3" fill="none"/>
<path d="M386.3 239.8h2.3M387.5 239.8h2.3M388.6 239.8h2.3M389.7 239.7h2.3M390.8 239.7h2.3M391.9 239.7h2.3M393.1 239.7h2.3M394.2 239.6h2.3M395.3 239.6h2.3M396.4 239.5h2.3M397.5 239.5h2.3M398.6 239.4h2.3M399.8 239.4h2.3M400.9 239.3h2.3M402.0 239.3h2.3M403.1 239.2h2.3M404.2 239.1h2.3M405.3 239.0h2.3M406.5 239.0h2.3M407.6 238.9h2.3M408.7 238.8h2.3M409.8 238.6h2.3M410.9 238.5h2.3M412.0 238.4h2.3M413.2 238.2h2.3M414.3 238.1h2.3M415.4 237.9h2.3M416.5 237.8h2.3M417.6 237.6h2.3M418.7 237.4h2.3M419.9 237.1h2.3M421.0 236.9h2.3M422.1 236.7h2.3M423.2 236.4h2.3M424.3 236.1h2.3M425.4 235.8h2.3M426.6 235.5h2.3M427.7 235.1h2.3M428.8 234.7h2.3M429.9 234.3h2.3M431.0 233.9h2.3M432.1 233.4h2.3M433.3 233.0h2.3M434.4 232.4h2.3M435.5 231.9h2.3M436.6 231.3h2.3M437.7 230.7h2.3M438.8 230.1h2.3M440.0 229.4h2.3M441.1 228.7h2.3M442.2 227.9h2.3M443.3 227.1h2.3M444.4 226.2h2.3M445.5 225.3h2.3M446.7 224.4h2.3M447.8 223.4h2.3M448.9 222.4h2.3M450.0 221.3h2.3M451.1 220.2h2.3M452.2 219.0h2.3M453.4 217.7h2.3M454.5 216.4h2.3M455.6 215.0h2.3M456.7 213.6h2.3M457.8 212.1h2.3M458.9 210.6h2.3M460.1 209.0h2.3M461.2 207.3h2.3M462.3 205.6h2.3M463.4 203.7h2.3M464.5 201.9h2.3M465.6 199.9h2.3M466.8 197.9h2.3M467.9 195.8h2.3M469.0 193.7h2.3M470.1 191.5h2.3M471.2 189.2h2.3M472.3 186.9h2.3M473.5 184.4h2.3M474.6 181.9h2.3M475.7 179.4h2.3M476.8 176.8h2.3M477.9 174.1h2.3M479.0 171.3h2.3M480.1 168.5h2.3M481.3 165.6h2.3M482.4 162.7h2.3M483.5 159.7h2.3M484.6 156.7h2.3M485.7 153.6h2.3M486.8 150.4h2.3M488.0 147.2h2.3M489.1 143.9h2.3M490.2 140.7h2.3M491.3 137.3h2.3M492.4 134.0h2.3M493.5 130.6h2.3M494.7 127.1h2.3M495.8 123.7h2.3M496.9 120.2h2.3M498.0 116.7h2.3M499.1 113.2h2.3M500.2 109.7h2.3M501.3 106.2h2.3M502.5 102.7h2.3M503.6 99.2h2.3M504.7 95.7h2.3M505.8 92.2h2.3M506.9 88.8h2.3M508.0 85.4h2.3M509.1 82.0h2.3M510.3 78.6h2.3M511.4 75.3h2.3M512.5 72.0h2.3M513.6 68.8h2.3M514.7 65.7h2.3M515.8 62.6h2.3M516.9 59.5h2.3M518.0 56.6h2.3M519.1 53.7h2.3M520.3 50.9h2.3M521.4 48.2h2.3M522.5 45.6h2.3M523.6 43.0h2.3M524.7 40.6h2.3M525.8 38.3h2.3M526.9 36.1h2.3M528.0 33.9h2.3M529.1 31.9h2.3M530.2 30.1h2.3M531.3 28.3h2.3M532.4 26.6h2.3M533.5 25.1h2.3M534.6 23.7h2.3M535.7 22.5h2.3M536.8 21.3h2.3M537.9 20.3h2.3M539.0 19.4h2.3M540.1 18.6h2.3M541.2 17.9h2.3M542.3 17.4h2.3M543.3 17.0h2.3M544.4 16.6h2.3M545.5 16.4h2.3M546.6 16.4h2.3M547.7 16.4h2.3M548.8 16.5h2.3M549.9 16.8h2.3M551.0 17.2h2.3M552.1 17.6h2.3M553.2 18.2h2.3M554.3 18.9h2.3M555.4 19.7h2.3M556.5 20.6h2.3M557.5 21.6h2.3M558.6 22.7h2.3M559.7 23.9h2.3M560.8 25.2h2.3M561.9 26.5h2.3M563.0 28.0h2.3M564.1 29.5h2.3M565.2 31.1h2.3M566.3 32.8h2.3M567.4 34.6h2.3M568.5 36.4h2.3M569.7 38.3h2.3M570.8 40.2h2.3M571.9 42.3h2.3M573.0 44.3h2.3M574.1 46.5h2.3M575.2 48.6h2.3M576.3 50.8h2.3M577.4 53.1h2.3M578.5 55.4h2.3M579.6 57.7h2.3M580.7 60.1h2.3M581.8 62.5h2.3M583.0 64.9h2.3M584.1 67.4h2.3M585.2 69.8h2.3M586.3 72.3h2.3M587.4 74.8h2.3M588.5 77.3h2.3M589.6 79.9h2.3M590.8 82.4h2.3M591.9 84.9h2.3M593.0 87.5h2.3M594.1 90.0h2.3M595.2 92.5h2.3M596.3 95.1h2.3M597.4 97.6h2.3M598.6 100.1h2.3M599.7 102.6h2.3M600.8 105.1h2.3M601.9 107.6h2.3M603.0 110.1h2.3M604.1 112.5h2.3M605.2 115.0h2.3M606.4 117.4h2.3M607.5 119.8h2.3M608.6 122.2h2.3M609.7 124.6h2.3M610.8 126.9h2.3M611.9 129.2h2.3M613.1 131.5h2.3M614.2 133.8h2.3M615.3 136.1h2.3M616.4 138.3h2.3M617.5 140.5h2.3M618.6 142.7h2.3M619.8 144.9h2.3M620.9 147.0h2.3M622.0 149.1h2.3M623.1 151.2h2.3M624.2 153.2h2.3M625.3 155.2h2.3M626.5 157.2h2.3M627.6 159.2h2.3M628.7 161.1h2.3M629.8 163.1h2.3M630.9 164.9h2.3M632.0 166.8h2.3M633.2 168.6h2.3M634.3 170.4h2.3M635.4 172.2h2.3M636.5 174.0h2.3M637.6 175.7h2.3M638.7 177.4h2.3M639.9 179.0h2.3M641.0 180.7h2.3M642.1 182.3h2.3M643.2 183.9h2.3M644.3 185.4h2.3M645.4 187.0h2.3M646.6 188.5h2.3M647.7 189.9h2.3M648.8 191.4h2.3M649.9 192.8h2.3M651.0 194.2h2.3M652.1 195.6h2.3M653.3 196.9h2.3M654.4 198.2h2.3M655.5 199.5h2.3M656.6 200.8h2.3M657.7 202.0h2.3M658.8 203.2h2.3M660.0 204.4h2.3M661.1 205.6h2.3M662.2 206.7h2.3M663.3 207.8h2.3M664.4 208.9h2.3M665.5 209.9h2.3M666.7 211.0h2.3M667.8 212.0h2.3M668.9 213.0h2.3M670.0 213.9h2.3M671.1 214.9h2.3M672.2 215.8h2.3M673.4 216.7h2.3M674.5 217.5h2.3M675.6 218.4h2.3M676.7 219.1h2.3M677.8 219.7h2.3M678.9 220.3h2.3M680.1 220.9h2.3M681.2 221.5h2.3M682.3 222.1h2.3M683.4 222.7h2.3M684.5 223.3h2.3M685.6 223.8h2.3M686.8 224.4h2.3M687.9 224.9h2.3M689.0 225.4h2.3M690.1 225.9h2.3M691.2 226.4h2.3M692.3 226.9h2.3M693.5 227.4h2.3M694.6 227.9h2.3M695.7 228.3h2.3M696.8 228.7h2.3M697.9 229.2h2.3M699.0 229.6h2.3M700.2 230.0h2.3M701.3 230.4h2.3M702.4 230.8h2.3M703.5 231.1h2.3M704.6 231.5h2.3M705.7 231.8h2.3M706.9 232.2h2.3M708.0 232.5h2.3M709.1 232.8h2.3M710.2 233.1h2.3M711.3 233.4h2.3M712.4 233.7h2.3M713.6 234.0h2.3M714.7 234.2h2.3M715.8 234.5h2.3M716.9 234.7h2.3M718.0 235.0h2.3M719.1 235.2h2.3M720.3 235.4h2.3" stroke="#24148a" stroke-width="1.45" fill="none"/>
<path d="M50.2 474.5h2.3M51.1 474.5h2.3M51.9 474.5h2.3M52.8 474.5h2.3M53.6 474.5h2.3M54.4 474.4h2.3M55.3 474.4h2.3M56.1 474.4h2.3M56.9 474.3h2.3M57.8 474.3h2.3M58.6 474.3h2.3M59.5 474.2h2.3M60.3 474.2h2.3M61.1 474.1h2.3M62.0 474.1h2.3M62.8 474.0h2.3M63.6 474.0h2.3M64.5 473.9h2.3M65.3 473.8h2.3M66.1 473.8h2.3M67.0 473.7h2.3M67.8 473.6h2.3M68.7 473.5h2.3M69.5 473.5h2.3M70.3 473.4h2.3M71.2 473.3h2.3M72.0 473.1h2.3M72.8 472.9h2.3M73.7 472.7h2.3M74.5 472.5h2.3M75.3 472.2h2.3M76.2 471.9h2.3M77.0 471.6h2.3M77.9 471.2h2.3M78.7 470.8h2.3M79.5 470.5h2.3M80.4 470.0h2.3M81.2 469.6h2.3M82.0 469.2h2.3M82.9 468.7h2.3M83.7 468.2h2.3M84.5 467.7h2.3M85.4 467.3h2.3M86.2 466.8h2.3M87.1 466.3h2.3M87.9 465.8h2.3M88.7 465.3h2.3M89.6 464.8h2.3M90.4 464.3h2.3M91.2 463.8h2.3M92.1 463.2h2.3M92.9 462.6h2.3M93.7 462.1h2.3M94.6 461.4h2.3M95.4 460.8h2.3M96.3 460.1h2.3M97.1 459.4h2.3M97.9 458.7h2.3M98.8 458.0h2.3M99.6 457.3h2.3M100.4 456.5h2.3M101.3 455.8h2.3M102.1 455.0h2.3M102.9 454.2h2.3M103.8 453.5h2.3M104.6 452.7h2.3M105.5 451.9h2.3M106.3 451.1h2.3M107.1 450.3h2.3M108.0 449.5h2.3M108.8 448.7h2.3M109.6 447.9h2.3M110.5 447.2h2.3M111.3 446.4h2.3M112.2 445.6h2.3M113.0 444.8h2.3M113.8 444.0h2.3M114.7 443.2h2.3M115.5 442.4h2.3M116.3 441.6h2.3M117.2 440.8h2.3M118.0 440.0h2.3M118.8 439.1h2.3M119.7 438.3h2.3M120.5 437.5h2.3M121.4 436.6h2.3M122.2 435.8h2.3M123.0 434.9h2.3M123.9 434.1h2.3M124.7 433.2h2.3M125.5 432.4h2.3M126.4 431.5h2.3M127.2 430.6h2.3M128.0 429.8h2.3M128.9 428.9h2.3M129.7 428.1h2.3M130.6 427.2h2.3M131.4 426.3h2.3M132.2 425.5h2.3M133.1 424.6h2.3M133.9 423.6h2.3M134.7 422.7h2.3M135.6 421.8h2.3M136.4 420.9h2.3M137.2 420.1h2.3M138.1 419.2h2.3M138.9 418.4h2.3M139.8 417.7h2.3M140.6 417.0h2.3M141.4 416.2h2.3M142.3 415.4h2.3M143.1 414.5h2.3M143.9 413.6h2.3M144.8 412.7h2.3M145.6 411.7h2.3M146.4 410.8h2.3M147.3 409.9h2.3M148.1 409.1h2.3M149.0 408.3h2.3M149.8 407.5h2.3M150.6 406.9h2.3M151.5 406.4h2.3M152.3 406.0h2.3M153.1 405.6h2.3M154.0 405.2h2.3M154.8 404.7h2.3M155.6 404.2h2.3M156.5 403.5h2.3M157.3 402.8h2.3M158.2 402.1h2.3M159.0 401.4h2.3M159.8 400.7h2.3M160.7 400.0h2.3M161.5 399.3h2.3M162.3 398.6h2.3M163.2 397.9h2.3M164.0 397.3h2.3M164.9 396.6h2.3M165.7 395.9h2.3M166.5 395.2h2.3M167.4 394.6h2.3M168.2 393.9h2.3M169.0 393.3h2.3M169.9 392.7h2.3M170.7 392.2h2.3M171.5 391.6h2.3M172.4 391.1h2.3M173.2 390.7h2.3M174.1 390.2h2.3M174.9 389.8h2.3M175.7 389.4h2.3M176.6 388.9h2.3M177.4 388.5h2.3M178.2 388.0h2.3M179.1 387.5h2.3M179.9 387.0h2.3M180.7 386.4h2.3M181.6 385.8h2.3M182.4 385.1h2.3M183.3 384.4h2.3M184.1 383.6h2.3M184.9 382.7h2.3M185.8 381.8h2.3M186.6 380.8h2.3M187.4 379.7h2.3M188.3 378.7h2.3M189.1 377.6h2.3M189.9 376.4h2.3M190.8 375.3h2.3M191.6 374.1h2.3M192.5 372.9h2.3M193.3 371.7h2.3M194.1 370.5h2.3M195.0 369.2h2.3M195.8 367.9h2.3M196.6 366.5h2.3M197.5 365.1h2.3M198.3 363.6h2.3M199.1 362.1h2.3M200.0 360.6h2.3M200.8 359.1h2.3M201.7 357.5h2.3M202.5 355.8h2.3M203.3 354.1h2.3M204.2 352.4h2.3M205.0 350.7h2.3M205.8 348.9h2.3M206.7 347.3h2.3M207.5 345.6h2.3M208.3 343.9h2.3M209.2 342.2h2.3M210.0 340.5h2.3M210.9 338.7h2.3M211.7 337.0h2.3M212.5 335.4h2.3M213.4 333.7h2.3M214.2 332.0h2.3M215.0 330.4h2.3M215.9 328.9h2.3M216.7 327.4h2.3M217.6 325.9h2.3M218.4 324.4h2.3M219.2 323.0h2.3M220.1 321.6h2.3M220.9 320.2h2.3M221.7 318.9h2.3M222.6 317.6h2.3M223.4 316.3h2.3M224.2 315.1h2.3M225.1 313.8h2.3M225.9 312.6h2.3M226.8 311.3h2.3M227.6 310.2h2.3M228.4 309.2h2.3M229.3 308.2h2.3M230.1 307.4h2.3M230.9 306.6h2.3M231.8 305.8h2.3M232.6 305.0h2.3M233.4 304.3h2.3M234.3 303.7h2.3M235.1 303.2h2.3M236.0 302.8h2.3M236.8 302.5h2.3M237.6 302.4h2.3M238.5 302.2h2.3M239.3 302.1h2.3M240.1 302.0h2.3M241.0 301.9h2.3M241.8 301.9h2.3M242.6 301.8h2.3M243.5 301.8h2.3M244.3 301.8h2.3M245.2 301.8h2.3M246.0 301.9h2.3M246.8 302.0h2.3M247.7 302.1h2.3M248.5 302.2h2.3M249.3 302.3h2.3M250.2 302.5h2.3M251.0 302.8h2.3M251.8 303.2h2.3M252.7 303.6h2.3M253.5 304.1h2.3M254.4 304.7h2.3M255.2 305.6h2.3M256.0 306.7h2.3M256.9 307.9h2.3M257.7 309.2h2.3M258.5 310.7h2.3M259.4 312.4h2.3M260.2 314.3h2.3M261.0 316.1h2.3M261.9 318.1h2.3M262.7 320.1h2.3M263.6 322.2h2.3M264.4 324.4h2.3M265.2 326.8h2.3M266.1 329.4h2.3M266.9 332.0h2.3M267.7 334.6h2.3M268.6 337.0h2.3M269.4 339.5h2.3M270.2 341.9h2.3M271.1 344.4h2.3M271.9 346.9h2.3M272.8 349.5h2.3M273.6 352.0h2.3M274.4 354.5h2.3M275.3 357.1h2.3M276.1 359.6h2.3M276.9 362.1h2.3M277.8 364.6h2.3M278.6 366.8h2.3M279.5 368.9h2.3M280.3 371.0h2.3M281.1 373.1h2.3M282.0 375.4h2.3M282.8 377.9h2.3M283.6 380.5h2.3M284.5 383.1h2.3M285.3 385.5h2.3M286.1 387.8h2.3M287.0 390.0h2.3M287.8 392.2h2.3M288.7 394.3h2.3M289.5 396.5h2.3M290.3 398.8h2.3M291.2 401.1h2.3M292.0 403.4h2.3M292.8 405.7h2.3M293.7 408.0h2.3M294.5 410.3h2.3M295.3 412.5h2.3M296.2 414.7h2.3M297.0 416.8h2.3M297.9 418.8h2.3M298.7 420.8h2.3M299.5 422.8h2.3M300.4 424.7h2.3M301.2 426.6h2.3M302.0 428.5h2.3M302.9 430.3h2.3M303.7 432.1h2.3M304.5 433.9h2.3M305.4 435.7h2.3M306.2 437.5h2.3M307.1 439.2h2.3M307.9 440.9h2.3M308.7 442.5h2.3M309.6 444.0h2.3M310.4 445.3h2.3M311.2 446.5h2.3M312.1 447.7h2.3M312.9 448.9h2.3M313.7 450.0h2.3M314.6 451.1h2.3M315.4 452.1h2.3M316.3 453.1h2.3M317.1 454.0h2.3M317.9 454.9h2.3M318.8 455.8h2.3M319.6 456.7h2.3M320.4 457.5h2.3M321.3 458.3h2.3M322.1 459.1h2.3M322.9 459.9h2.3M323.8 460.6h2.3M324.6 461.4h2.3M325.5 462.1h2.3M326.3 462.7h2.3M327.1 463.4h2.3M328.0 464.0h2.3M328.8 464.6h2.3M329.6 465.2h2.3M330.5 465.7h2.3M331.3 466.3h2.3M332.2 466.8h2.3M333.0 467.3h2.3M333.8 467.8h2.3M334.7 468.3h2.3M335.5 468.7h2.3M336.3 469.1h2.3M337.2 469.5h2.3M338.0 469.8h2.3M338.8 470.1h2.3M339.7 470.4h2.3M340.5 470.7h2.3M341.4 471.0h2.3M342.2 471.3h2.3M343.0 471.5h2.3M343.9 471.8h2.3M344.7 472.0h2.3M345.5 472.2h2.3M346.4 472.4h2.3M347.2 472.6h2.3M348.0 472.7h2.3M348.9 472.9h2.3M349.7 473.0h2.3M350.6 473.1h2.3M351.4 473.2h2.3M352.2 473.3h2.3M353.1 473.4h2.3M353.9 473.5h2.3M354.7 473.6h2.3M355.6 473.7h2.3M356.4 473.8h2.3M357.2 473.9h2.3M358.1 473.9h2.3M358.9 474.0h2.3M359.8 474.0h2.3M360.6 474.0h2.3M361.4 474.0h2.3M362.3 474.0h2.3M363.1 474.0h2.3M363.9 474.0h2.3M364.8 474.0h2.3M365.6 474.0h2.3M366.4 474.0h2.3M367.3 473.9h2.3M368.1 473.9h2.3M369.0 473.9h2.3M369.8 473.9h2.3M370.6 473.9h2.3M371.5 473.8h2.3M372.3 473.8h2.3M373.1 473.8h2.3M374.0 473.7h2.3M374.8 473.7h2.3M375.6 473.7h2.3M376.5 473.6h2.3M377.3 473.5h2.3M378.2 473.2h2.3M379.0 472.7h2.3M379.8 472.2h2.3M380.7 471.5h2.3M381.5 470.9h2.3M382.3 470.2h2.3M383.2 469.5h2.3M384.0 468.6h2.3M384.9 467.8h2.3" stroke="#161616" stroke-width="1.3" fill="none"/>
<path d="M50.2 474.0h2.3M51.1 473.9h2.3M51.9 473.9h2.3M52.8 473.8h2.3M53.6 473.8h2.3M54.4 473.7h2.3M55.3 473.6h2.3M56.1 473.5h2.3M56.9 473.5h2.3M57.8 473.4h2.3M58.6 473.3h2.3M59.5 473.2h2.3M60.3 473.1h2.3M61.1 473.0h2.3M62.0 472.9h2.3M62.8 472.8h2.3M63.6 472.6h2.3M64.5 472.5h2.3M65.3 472.4h2.3M66.1 472.2h2.3M67.0 472.1h2.3M67.8 471.9h2.3M68.7 471.7h2.3M69.5 471.6h2.3M70.3 471.4h2.3M71.2 471.2h2.3M72.0 471.0h2.3M72.8 470.8h2.3M73.7 470.5h2.3M74.5 470.3h2.3M75.3 470.1h2.3M76.2 469.8h2.3M77.0 469.5h2.3M77.9 469.3h2.3M78.7 469.0h2.3M79.5 468.7h2.3M80.4 468.4h2.3M81.2 468.0h2.3M82.0 467.7h2.3M82.9 467.3h2.3M83.7 467.0h2.3M84.5 466.6h2.3M85.4 466.2h2.3M86.2 465.8h2.3M87.1 465.4h2.3M87.9 464.9h2.3M88.7 464.5h2.3M89.6 464.0h2.3M90.4 463.5h2.3M91.2 463.0h2.3M92.1 462.5h2.3M92.9 462.0h2.3M93.7 461.5h2.3M94.6 460.9h2.3M95.4 460.3h2.3M96.3 459.7h2.3M97.1 459.1h2.3M97.9 458.5h2.3M98.8 457.9h2.3M99.6 457.2h2.3M100.4 456.6h2.3M101.3 455.9h2.3M102.1 455.2h2.3M102.9 454.5h2.3M103.8 453.8h2.3M104.6 453.0h2.3M105.5 452.3h2.3M106.3 451.5h2.3M107.1 450.7h2.3M108.0 450.0h2.3M108.8 449.2h2.3M109.6 448.4h2.3M110.5 447.5h2.3M111.3 446.7h2.3M112.2 445.9h2.3M113.0 445.0h2.3M113.8 444.2h2.3M114.7 443.3h2.3M115.5 442.4h2.3M116.3 441.6h2.3M117.2 440.7h2.3M118.0 439.8h2.3M118.8 438.9h2.3M119.7 438.0h2.3M120.5 437.2h2.3M121.4 436.3h2.3M122.2 435.4h2.3M123.0 434.5h2.3M123.9 433.6h2.3M124.7 432.8h2.3M125.5 431.9h2.3M126.4 431.0h2.3M127.2 430.2h2.3M128.0 429.3h2.3M128.9 428.5h2.3M129.7 427.7h2.3M130.6 426.9h2.3M131.4 426.1h2.3M132.2 425.3h2.3M133.1 424.5h2.3M133.9 423.8h2.3M134.7 423.0h2.3M135.6 422.3h2.3M136.4 421.6h2.3M137.2 420.9h2.3M138.1 420.3h2.3M138.9 419.6h2.3M139.8 419.0h2.3M140.6 418.5h2.3M141.4 417.9h2.3M142.3 417.4h2.3M143.1 416.9h2.3M143.9 416.4h2.3M144.8 416.0h2.3M145.6 415.5h2.3M146.4 415.2h2.3M147.3 414.8h2.3M148.1 414.5h2.3M149.0 414.2h2.3M149.8 413.9h2.3M150.6 413.7h2.3M151.5 413.5h2.3M152.3 413.4h2.3M153.1 413.3h2.3M154.0 413.2h2.3M154.8 413.1h2.3M155.6 413.1h2.3M156.5 413.1h2.3M157.3 413.2h2.3M158.2 413.2h2.3M159.0 413.3h2.3M159.8 413.4h2.3M160.7 413.6h2.3M161.5 413.8h2.3M162.3 414.0h2.3M163.2 414.2h2.3M164.0 414.5h2.3M164.9 414.8h2.3M165.7 415.1h2.3M166.5 415.4h2.3M167.4 415.8h2.3M168.2 416.2h2.3M169.0 416.6h2.3M169.9 417.0h2.3M170.7 417.5h2.3M171.5 417.9h2.3M172.4 418.4h2.3M173.2 419.0h2.3M174.1 419.5h2.3M174.9 420.1h2.3M175.7 420.6h2.3M176.6 421.2h2.3M177.4 421.8h2.3M178.2 422.5h2.3M179.1 423.1h2.3M179.9 423.8h2.3M180.7 424.5h2.3M181.6 425.1h2.3M182.4 425.9h2.3M183.3 426.6h2.3M184.1 427.3h2.3M184.9 428.0h2.3M185.8 428.8h2.3M186.6 429.5h2.3M187.4 430.3h2.3M188.3 431.1h2.3M189.1 431.8h2.3M189.9 432.6h2.3M190.8 433.4h2.3M191.6 434.2h2.3M192.5 435.0h2.3M193.3 435.8h2.3M194.1 436.6h2.3M195.0 437.4h2.3M195.8 438.1h2.3M196.6 438.9h2.3M197.5 439.7h2.3M198.3 440.5h2.3M199.1 441.3h2.3M200.0 442.1h2.3M200.8 442.9h2.3M201.7 443.7h2.3M202.5 444.4h2.3M203.3 445.2h2.3M204.2 445.9h2.3M205.0 446.7h2.3M205.8 447.4h2.3M206.7 448.2h2.3M207.5 448.9h2.3M208.3 449.6h2.3M209.2 450.3h2.3M210.0 451.0h2.3M210.9 451.7h2.3M211.7 452.4h2.3M212.5 453.1h2.3M213.4 453.7h2.3M214.2 454.4h2.3M215.0 455.0h2.3M215.9 455.7h2.3M216.7 456.3h2.3M217.6 456.9h2.3M218.4 457.5h2.3M219.2 458.1h2.3M220.1 458.6h2.3M220.9 459.2h2.3M221.7 459.7h2.3M222.6 460.2h2.3M223.4 460.8h2.3M224.2 461.3h2.3M225.1 461.8h2.3M225.9 462.2h2.3M226.8 462.7h2.3M227.6 463.2h2.3M228.4 463.6h2.3M229.3 464.0h2.3M230.1 464.5h2.3M230.9 464.9h2.3M231.8 465.3h2.3M232.6 465.6h2.3M233.4 466.0h2.3M234.3 466.4h2.3M235.1 466.7h2.3M236.0 467.1h2.3M236.8 467.4h2.3M237.6 467.7h2.3M238.5 468.0h2.3M239.3 468.3h2.3M240.1 468.6h2.3M241.0 468.9h2.3M241.8 469.1h2.3M242.6 469.4h2.3M243.5 469.6h2.3M244.3 469.9h2.3M245.2 470.1h2.3M246.0 470.3h2.3M246.8 470.5h2.3M247.7 470.7h2.3M248.5 470.9h2.3M249.3 471.1h2.3M250.2 471.3h2.3M251.0 471.5h2.3M251.8 471.6h2.3M252.7 471.8h2.3M253.5 471.9h2.3M254.4 472.1h2.3M255.2 472.2h2.3M256.0 472.3h2.3M256.9 472.5h2.3M257.7 472.6h2.3M258.5 472.7h2.3M259.4 472.8h2.3M260.2 472.9h2.3M261.0 473.0h2.3M261.9 473.1h2.3M262.7 473.2h2.3M263.6 473.3h2.3M264.4 473.4h2.3M265.2 473.4h2.3M266.1 473.5h2.3M266.9 473.6h2.3M267.7 473.6h2.3M268.6 473.7h2.3M269.4 473.8h2.3M270.2 473.8h2.3M271.1 473.9h2.3M271.9 473.9h2.3M272.8 474.0h2.3M273.6 474.0h2.3M274.4 474.1h2.3M275.3 474.1h2.3M276.1 474.1h2.3M276.9 474.2h2.3M277.8 474.2h2.3M278.6 474.2h2.3M279.5 474.3h2.3M280.3 474.3h2.3M281.1 474.3h2.3M282.0 474.3h2.3M282.8 474.4h2.3M283.6 474.4h2.3M284.5 474.4h2.3M285.3 474.4h2.3M286.1 474.5h2.3M287.0 474.5h2.3M287.8 474.5h2.3M288.7 474.5h2.3M289.5 474.5h2.3M290.3 474.5h2.3M291.2 474.5h2.3M292.0 474.6h2.3M292.8 474.6h2.3M293.7 474.6h2.3M294.5 474.6h2.3M295.3 474.6h2.3M296.2 474.6h2.3M297.0 474.6h2.3M297.9 474.6h2.3M298.7 474.6h2.3M299.5 474.6h2.3M300.4 474.6h2.3M301.2 474.6h2.3M302.0 474.6h2.3M302.9 474.6h2.3M303.7 474.6h2.3M304.5 474.7h2.3M305.4 474.7h2.3M306.2 474.7h2.3M307.1 474.7h2.3M307.9 474.7h2.3M308.7 474.7h2.3M309.6 474.7h2.3M310.4 474.7h2.3M311.2 474.7h2.3M312.1 474.7h2.3M312.9 474.7h2.3M313.7 474.7h2.3M314.6 474.7h2.3M315.4 474.7h2.3M316.3 474.7h2.3M317.1 474.7h2.3M317.9 474.7h2.3M318.8 474.7h2.3M319.6 474.7h2.3M320.4 474.7h2.3M321.3 474.7h2.3M322.1 474.7h2.3M322.9 474.7h2.3M323.8 474.7h2.3M324.6 474.7h2.3M325.5 474.7h2.3M326.3 474.7h2.3M327.1 474.7h2.3M328.0 474.7h2.3M328.8 474.7h2.3M329.6 474.7h2.3M330.5 474.7h2.3M331.3 474.7h2.3M332.2 474.7h2.3M333.0 474.7h2.3M333.8 474.7h2.3M334.7 474.7h2.3M335.5 474.7h2.3M336.3 474.7h2.3M337.2 474.7h2.3M338.0 474.7h2.3M338.8 474.7h2.3M339.7 474.7h2.3M340.5 474.7h2.3M341.4 474.7h2.3M342.2 474.7h2.3M343.0 474.7h2.3M343.9 474.7h2.3M344.7 474.7h2.3M345.5 474.7h2.3M346.4 474.7h2.3M347.2 474.7h2.3M348.0 474.7h2.3M348.9 474.7h2.3M349.7 474.7h2.3M350.6 474.7h2.3M351.4 474.7h2.3M352.2 474.7h2.3M353.1 474.7h2.3M353.9 474.7h2.3M354.7 474.7h2.3M355.6 474.7h2.3M356.4 474.7h2.3M357.2 474.7h2.3M358.1 474.7h2.3M358.9 474.7h2.3M359.8 474.7h2.3M360.6 474.7h2.3M361.4 474.7h2.3M362.3 474.7h2.3M363.1 474.7h2.3M363.9 474.7h2.3M364.8 474.7h2.3M365.6 474.7h2.3M366.4 474.7h2.3M367.3 474.7h2.3M368.1 474.7h2.3M369.0 474.7h2.3M369.8 474.7h2.3M370.6 474.7h2.3M371.5 474.7h2.3M372.3 474.7h2.3M373.1 474.7h2.3M374.0 474.7h2.3M374.8 474.7h2.3M375.6 474.7h2.3M376.5 474.7h2.3M377.3 474.7h2.3M378.2 474.7h2.3M379.0 474.7h2.3M379.8 474.7h2.3M380.7 474.7h2.3M381.5 474.7h2.3M382.3 474.7h2.3M383.2 474.7h2.3M384.0 474.7h2.3M384.9 474.7h2.3" stroke="#2e8b2e" stroke-width="1.3" fill="none"/>
<path d="M50.2 474.7h2.3M51.1 474.7h2.3M51.9 474.7h2.3M52.8 474.7h2.3M53.6 474.7h2.3M54.4 474.7h2.3M55.3 474.7h2.3M56.1 474.7h2.3M56.9 474.7h2.3M57.8 474.7h2.3M58.6 474.7h2.3M59.5 474.7h2.3M60.3 474.7h2.3M61.1 474.7h2.3M62.0 474.7h2.3M62.8 474.7h2.3M63.6 474.7h2.3M64.5 474.7h2.3M65.3 474.7h2.3M66.1 474.7h2.3M67.0 474.7h2.3M67.8 474.7h2.3M68.7 474.7h2.3M69.5 474.7h2.3M70.3 474.7h2.3M71.2 474.7h2.3M72.0 474.7h2.3M72.8 474.7h2.3M73.7 474.7h2.3M74.5 474.7h2.3M75.3 474.7h2.3M76.2 474.7h2.3M77.0 474.7h2.3M77.9 474.7h2.3M78.7 474.7h2.3M79.5 474.7h2.3M80.4 474.7h2.3M81.2 474.7h2.3M82.0 474.7h2.3M82.9 474.7h2.3M83.7 474.7h2.3M84.5 474.7h2.3M85.4 474.7h2.3M86.2 474.7h2.3M87.1 474.7h2.3M87.9 474.7h2.3M88.7 474.7h2.3M89.6 474.7h2.3M90.4 474.7h2.3M91.2 474.7h2.3M92.1 474.7h2.3M92.9 474.7h2.3M93.7 474.7h2.3M94.6 474.7h2.3M95.4 474.7h2.3M96.3 474.7h2.3M97.1 474.7h2.3M97.9 474.7h2.3M98.8 474.7h2.3M99.6 474.7h2.3M100.4 474.7h2.3M101.3 474.6h2.3M102.1 474.6h2.3M102.9 474.6h2.3M103.8 474.6h2.3M104.6 474.6h2.3M105.5 474.6h2.3M106.3 474.6h2.3M107.1 474.6h2.3M108.0 474.6h2.3M108.8 474.6h2.3M109.6 474.6h2.3M110.5 474.5h2.3M111.3 474.5h2.3M112.2 474.5h2.3M113.0 474.5h2.3M113.8 474.5h2.3M114.7 474.5h2.3M115.5 474.4h2.3M116.3 474.4h2.3M117.2 474.4h2.3M118.0 474.4h2.3M118.8 474.3h2.3M119.7 474.3h2.3M120.5 474.3h2.3M121.4 474.2h2.3M122.2 474.2h2.3M123.0 474.2h2.3M123.9 474.1h2.3M124.7 474.1h2.3M125.5 474.0h2.3M126.4 474.0h2.3M127.2 473.9h2.3M128.0 473.8h2.3M128.9 473.8h2.3M129.7 473.7h2.3M130.6 473.6h2.3M131.4 473.5h2.3M132.2 473.4h2.3M133.1 473.3h2.3M133.9 473.2h2.3M134.7 473.1h2.3M135.6 473.0h2.3M136.4 472.9h2.3M137.2 472.7h2.3M138.1 472.6h2.3M138.9 472.4h2.3M139.8 472.3h2.3M140.6 472.1h2.3M141.4 471.9h2.3M142.3 471.7h2.3M143.1 471.5h2.3M143.9 471.3h2.3M144.8 471.1h2.3M145.6 470.8h2.3M146.4 470.6h2.3M147.3 470.3h2.3M148.1 470.0h2.3M149.0 469.7h2.3M149.8 469.3h2.3M150.6 469.0h2.3M151.5 468.6h2.3M152.3 468.3h2.3M153.1 467.9h2.3M154.0 467.4h2.3M154.8 467.0h2.3M155.6 466.5h2.3M156.5 466.0h2.3M157.3 465.5h2.3M158.2 465.0h2.3M159.0 464.4h2.3M159.8 463.8h2.3M160.7 463.2h2.3M161.5 462.5h2.3M162.3 461.8h2.3M163.2 461.1h2.3M164.0 460.4h2.3M164.9 459.6h2.3M165.7 458.8h2.3M166.5 458.0h2.3M167.4 457.1h2.3M168.2 456.2h2.3M169.0 455.2h2.3M169.9 454.2h2.3M170.7 453.2h2.3M171.5 452.1h2.3M172.4 451.0h2.3M173.2 449.9h2.3M174.1 448.7h2.3M174.9 447.5h2.3M175.7 446.2h2.3M176.6 444.9h2.3M177.4 443.6h2.3M178.2 442.2h2.3M179.1 440.7h2.3M179.9 439.2h2.3M180.7 437.7h2.3M181.6 436.2h2.3M182.4 434.5h2.3M183.3 432.9h2.3M184.1 431.2h2.3M184.9 429.5h2.3M185.8 427.7h2.3M186.6 425.8h2.3M187.4 424.0h2.3M188.3 422.1h2.3M189.1 420.1h2.3M189.9 418.1h2.3M190.8 416.1h2.3M191.6 414.0h2.3M192.5 411.9h2.3M193.3 409.7h2.3M194.1 407.6h2.3M195.0 405.4h2.3M195.8 403.1h2.3M196.6 400.8h2.3M197.5 398.5h2.3M198.3 396.2h2.3M199.1 393.8h2.3M200.0 391.4h2.3M200.8 389.0h2.3M201.7 386.6h2.3M202.5 384.1h2.3M203.3 381.7h2.3M204.2 379.2h2.3M205.0 376.7h2.3M205.8 374.2h2.3M206.7 371.7h2.3M207.5 369.2h2.3M208.3 366.7h2.3M209.2 364.2h2.3M210.0 361.7h2.3M210.9 359.2h2.3M211.7 356.8h2.3M212.5 354.3h2.3M213.4 351.9h2.3M214.2 349.5h2.3M215.0 347.1h2.3M215.9 344.7h2.3M216.7 342.4h2.3M217.6 340.1h2.3M218.4 337.8h2.3M219.2 335.6h2.3M220.1 333.4h2.3M220.9 331.3h2.3M221.7 329.2h2.3M222.6 327.2h2.3M223.4 325.2h2.3M224.2 323.3h2.3M225.1 321.4h2.3M225.9 319.7h2.3M226.8 317.9h2.3M227.6 316.3h2.3M228.4 314.7h2.3M229.3 313.2h2.3M230.1 311.8h2.3M230.9 310.5h2.3M231.8 309.2h2.3M232.6 308.0h2.3M233.4 306.9h2.3M234.3 305.9h2.3M235.1 305.0h2.3M236.0 304.2h2.3M236.8 303.5h2.3M237.6 302.9h2.3M238.5 302.3h2.3M239.3 301.9h2.3M240.1 301.5h2.3M241.0 301.3h2.3M241.8 301.1h2.3M242.6 301.1h2.3M243.5 301.1h2.3M244.3 301.3h2.3M245.2 301.5h2.3M246.0 301.8h2.3M246.8 302.2h2.3M247.7 302.7h2.3M248.5 303.3h2.3M249.3 304.0h2.3M250.2 304.8h2.3M251.0 305.6h2.3M251.8 306.5h2.3M252.7 307.6h2.3M253.5 308.7h2.3M254.4 309.8h2.3M255.2 311.1h2.3M256.0 312.4h2.3M256.9 313.8h2.3M257.7 315.3h2.3M258.5 316.9h2.3M259.4 318.5h2.3M260.2 320.2h2.3M261.0 321.9h2.3M261.9 323.7h2.3M262.7 325.6h2.3M263.6 327.5h2.3M264.4 329.4h2.3M265.2 331.5h2.3M266.1 333.5h2.3M266.9 335.6h2.3M267.7 337.8h2.3M268.6 340.0h2.3M269.4 342.2h2.3M270.2 344.4h2.3M271.1 346.7h2.3M271.9 349.0h2.3M272.8 351.4h2.3M273.6 353.7h2.3M274.4 356.1h2.3M275.3 358.5h2.3M276.1 360.9h2.3M276.9 363.3h2.3M277.8 365.7h2.3M278.6 368.1h2.3M279.5 370.5h2.3M280.3 372.9h2.3M281.1 375.4h2.3M282.0 377.8h2.3M282.8 380.2h2.3M283.6 382.6h2.3M284.5 384.9h2.3M285.3 387.3h2.3M286.1 389.6h2.3M287.0 392.0h2.3M287.8 394.3h2.3M288.7 396.5h2.3M289.5 398.8h2.3M290.3 401.0h2.3M291.2 403.2h2.3M292.0 405.4h2.3M292.8 407.5h2.3M293.7 409.7h2.3M294.5 411.7h2.3M295.3 413.8h2.3M296.2 415.8h2.3M297.0 417.8h2.3M297.9 419.7h2.3M298.7 421.6h2.3M299.5 423.4h2.3M300.4 425.3h2.3M301.2 427.0h2.3M302.0 428.8h2.3M302.9 430.5h2.3M303.7 432.1h2.3M304.5 433.8h2.3M305.4 435.3h2.3M306.2 436.9h2.3M307.1 438.4h2.3M307.9 439.8h2.3M308.7 441.2h2.3M309.6 442.6h2.3M310.4 444.0h2.3M311.2 445.2h2.3M312.1 446.5h2.3M312.9 447.7h2.3M313.7 448.9h2.3M314.6 450.0h2.3M315.4 451.1h2.3M316.3 452.2h2.3M317.1 453.2h2.3M317.9 454.2h2.3M318.8 455.2h2.3M319.6 456.1h2.3M320.4 457.0h2.3M321.3 457.8h2.3M322.1 458.7h2.3M322.9 459.4h2.3M323.8 460.2h2.3M324.6 460.9h2.3M325.5 461.6h2.3M326.3 462.3h2.3M327.1 462.9h2.3M328.0 463.5h2.3M328.8 464.1h2.3M329.6 464.7h2.3M330.5 465.2h2.3M331.3 465.7h2.3M332.2 466.2h2.3M333.0 466.7h2.3M333.8 467.1h2.3M334.7 467.6h2.3M335.5 468.0h2.3M336.3 468.4h2.3M337.2 468.7h2.3M338.0 469.1h2.3M338.8 469.4h2.3M339.7 469.7h2.3M340.5 470.0h2.3M341.4 470.3h2.3M342.2 470.6h2.3M343.0 470.8h2.3M343.9 471.1h2.3M344.7 471.3h2.3M345.5 471.5h2.3M346.4 471.7h2.3M347.2 471.9h2.3M348.0 472.1h2.3M348.9 472.2h2.3M349.7 472.4h2.3M350.6 472.5h2.3M351.4 472.7h2.3M352.2 472.8h2.3M353.1 473.0h2.3M353.9 473.1h2.3M354.7 473.2h2.3M355.6 473.3h2.3M356.4 473.4h2.3M357.2 473.5h2.3M358.1 473.6h2.3M358.9 473.6h2.3M359.8 473.7h2.3M360.6 473.8h2.3M361.4 473.9h2.3M362.3 473.9h2.3M363.1 474.0h2.3M363.9 474.0h2.3M364.8 474.1h2.3M365.6 474.1h2.3M366.4 474.2h2.3M367.3 474.2h2.3M368.1 474.2h2.3M369.0 474.3h2.3M369.8 474.3h2.3M370.6 474.3h2.3M371.5 474.4h2.3M372.3 474.4h2.3M373.1 474.4h2.3M374.0 474.4h2.3M374.8 474.5h2.3M375.6 474.5h2.3M376.5 474.5h2.3M377.3 474.5h2.3M378.2 474.5h2.3M379.0 474.5h2.3M379.8 474.6h2.3M380.7 474.6h2.3M381.5 474.6h2.3M382.3 474.6h2.3M383.2 474.6h2.3M384.0 474.6h2.3M384.9 474.6h2.3" stroke="#2e8b2e" stroke-width="1.3" fill="none"/>
<path d="M385.2 474.4h2.3M386.4 474.4h2.3M387.5 474.3h2.3M388.6 474.3h2.3M389.7 474.3h2.3M390.8 474.2h2.3M392.0 474.2h2.3M393.1 474.1h2.3M394.2 474.0h2.3M395.3 473.9h2.3M396.4 473.9h2.3M397.5 473.8h2.3M398.7 473.7h2.3M399.8 473.6h2.3M400.9 473.5h2.3M402.0 473.4h2.3M403.1 473.3h2.3M404.2 473.1h2.3M405.4 473.0h2.3M406.5 472.8h2.3M407.6 472.7h2.3M408.7 472.5h2.3M409.8 472.4h2.3M410.9 472.3h2.3M412.1 472.1h2.3M413.2 472.0h2.3M414.3 471.9h2.3M415.4 471.8h2.3M416.5 471.6h2.3M417.6 471.5h2.3M418.8 471.4h2.3M419.9 471.2h2.3M421.0 471.1h2.3M422.1 470.9h2.3M423.2 470.7h2.3M424.3 470.4h2.3M425.5 470.2h2.3M426.6 469.9h2.3M427.7 469.6h2.3M428.8 469.3h2.3M429.9 468.9h2.3M431.0 468.6h2.3M432.2 468.3h2.3M433.3 468.0h2.3M434.4 467.6h2.3M435.5 467.3h2.3M436.6 467.0h2.3M437.7 466.7h2.3M438.9 466.3h2.3M440.0 466.0h2.3M441.1 465.7h2.3M442.2 465.3h2.3M443.3 464.9h2.3M444.4 464.5h2.3M445.6 464.1h2.3M446.7 463.7h2.3M447.8 463.2h2.3M448.9 462.7h2.3M450.0 462.2h2.3M451.1 461.7h2.3M452.3 461.2h2.3M453.4 460.7h2.3M454.5 460.1h2.3M455.6 459.5h2.3M456.7 458.9h2.3M457.8 458.3h2.3M459.0 457.6h2.3M460.1 456.8h2.3M461.2 455.9h2.3M462.3 454.8h2.3M463.4 453.7h2.3M464.5 452.6h2.3M465.7 451.5h2.3M466.8 450.3h2.3M467.9 449.1h2.3M469.0 447.8h2.3M470.1 446.5h2.3M471.2 445.2h2.3M472.4 443.8h2.3M473.5 442.4h2.3M474.6 440.9h2.3M475.7 439.4h2.3M476.8 437.9h2.3M477.9 436.3h2.3M479.1 434.7h2.3M480.2 433.1h2.3M481.3 431.4h2.3M482.4 429.7h2.3M483.5 427.9h2.3M484.6 426.2h2.3M485.8 424.4h2.3M486.9 422.5h2.3M488.0 420.6h2.3M489.1 418.7h2.3M490.2 416.8h2.3M491.3 414.9h2.3M492.5 412.9h2.3M493.6 411.0h2.3M494.7 409.0h2.3M495.8 407.0h2.3M496.9 405.0h2.3M498.0 403.0h2.3M499.2 400.9h2.3M500.3 398.9h2.3M501.4 396.9h2.3M502.5 394.9h2.3M503.6 392.9h2.3M504.7 390.9h2.3M505.9 388.9h2.3M507.0 387.0h2.3M508.1 385.0h2.3M509.2 383.1h2.3M510.3 381.3h2.3M511.4 379.4h2.3M512.6 377.6h2.3M513.7 375.8h2.3M514.8 374.1h2.3M515.9 372.4h2.3M517.0 370.8h2.3M518.1 369.2h2.3M519.3 367.6h2.3M520.4 366.2h2.3M521.5 364.8h2.3M522.6 363.4h2.3M523.7 362.1h2.3M524.8 360.9h2.3M526.0 359.8h2.3M527.1 358.7h2.3M528.2 357.7h2.3M529.3 356.8h2.3M530.4 356.1h2.3M531.5 355.3h2.3M532.7 354.7h2.3M533.8 354.1h2.3M534.9 353.6h2.3M536.0 353.1h2.3M537.1 352.7h2.3M538.2 352.3h2.3M539.4 352.0h2.3M540.5 351.8h2.3M541.6 351.6h2.3M542.7 351.5h2.3M543.8 351.6h2.3M544.9 352.1h2.3M546.1 352.8h2.3M547.2 353.5h2.3M548.3 354.3h2.3M549.4 355.2h2.3M550.5 356.2h2.3M551.6 357.3h2.3M552.8 358.5h2.3M553.9 359.9h2.3M555.0 361.3h2.3M556.1 362.9h2.3M557.2 364.5h2.3M558.3 366.3h2.3M559.5 368.3h2.3M560.6 370.2h2.3M561.7 372.2h2.3M562.8 374.2h2.3M563.9 376.0h2.3M565.0 377.8h2.3M566.2 379.5h2.3M567.3 381.2h2.3M568.4 382.9h2.3M569.5 384.6h2.3M570.6 386.2h2.3M571.7 387.9h2.3M572.9 389.5h2.3M574.0 391.2h2.3M575.1 392.8h2.3M576.2 394.4h2.3M577.3 396.1h2.3M578.4 397.7h2.3M579.6 399.4h2.3M580.7 401.2h2.3M581.8 403.1h2.3M582.9 405.0h2.3M584.0 406.9h2.3M585.1 408.8h2.3M586.3 410.8h2.3M587.4 412.7h2.3M588.5 414.3h2.3M589.6 415.7h2.3M590.7 417.0h2.3M591.8 418.2h2.3M593.0 419.3h2.3M594.1 420.3h2.3M595.2 421.3h2.3M596.3 422.2h2.3M597.4 423.0h2.3M598.5 423.7h2.3M599.7 424.2h2.3M600.8 424.8h2.3M601.9 425.3h2.3M603.0 425.6h2.3M604.1 425.7h2.3M605.2 425.6h2.3M606.4 425.2h2.3M607.5 424.8h2.3M608.6 424.3h2.3M609.7 423.8h2.3M610.8 423.1h2.3M611.9 422.2h2.3M613.1 421.3h2.3M614.2 420.3h2.3M615.3 419.0h2.3M616.4 417.4h2.3M617.5 415.8h2.3M618.6 414.3h2.3M619.8 413.2h2.3M620.9 412.2h2.3M622.0 411.2h2.3M623.1 410.5h2.3M624.2 410.1h2.3M625.3 410.3h2.3M626.5 410.8h2.3M627.6 411.7h2.3M628.7 412.8h2.3M629.8 414.1h2.3M630.9 416.0h2.3M632.0 418.5h2.3M633.2 421.3h2.3M634.3 424.0h2.3M635.4 426.5h2.3M636.5 428.8h2.3M637.6 431.0h2.3M638.7 433.3h2.3M639.9 435.5h2.3M641.0 437.7h2.3M642.1 440.1h2.3M643.2 442.4h2.3M644.3 444.8h2.3M645.4 447.0h2.3M646.6 449.0h2.3M647.7 450.8h2.3M648.8 452.4h2.3M649.9 454.0h2.3M651.0 455.4h2.3M652.1 456.7h2.3M653.3 457.8h2.3M654.4 458.7h2.3M655.5 459.6h2.3M656.6 460.4h2.3M657.7 461.2h2.3M658.8 461.9h2.3M660.0 462.6h2.3M661.1 463.4h2.3M662.2 464.1h2.3M663.3 464.8h2.3M664.4 465.5h2.3M665.5 466.2h2.3M666.7 466.9h2.3M667.8 467.5h2.3M668.9 468.1h2.3M670.0 468.7h2.3M671.1 469.2h2.3M672.2 469.7h2.3M673.4 470.2h2.3M674.5 470.7h2.3M675.6 471.1h2.3M676.7 471.6h2.3M677.8 472.0h2.3M678.9 472.3h2.3M680.1 472.7h2.3M681.2 473.1h2.3M682.3 473.5h2.3M683.4 473.8h2.3M684.5 474.0h2.3M685.6 474.1h2.3M686.8 474.0h2.3M687.9 473.8h2.3M689.0 473.5h2.3M690.1 473.3h2.3M691.2 473.2h2.3M692.3 473.3h2.3M693.5 473.4h2.3M694.6 473.6h2.3M695.7 473.6h2.3M696.8 473.6h2.3M697.9 473.6h2.3M699.0 473.6h2.3M700.2 473.6h2.3M701.3 473.6h2.3M702.4 473.6h2.3M703.5 473.6h2.3M704.6 473.6h2.3M705.7 473.6h2.3M706.9 473.4h2.3M708.0 473.2h2.3M709.1 472.9h2.3M710.2 472.6h2.3M711.3 472.3h2.3M712.4 472.0h2.3M713.6 471.7h2.3M714.7 471.6h2.3M715.8 471.5h2.3M716.9 471.4h2.3M718.0 471.4h2.3M719.1 471.3h2.3M720.3 471.3h2.3" stroke="#161616" stroke-width="1.3" fill="none"/>
<path d="M385.2 474.6h2.3M386.4 474.6h2.3M387.5 474.6h2.3M388.6 474.6h2.3M389.7 474.5h2.3M390.8 474.5h2.3M392.0 474.5h2.3M393.1 474.5h2.3M394.2 474.5h2.3M395.3 474.4h2.3M396.4 474.4h2.3M397.5 474.4h2.3M398.7 474.4h2.3M399.8 474.3h2.3M400.9 474.3h2.3M402.0 474.3h2.3M403.1 474.2h2.3M404.2 474.2h2.3M405.4 474.1h2.3M406.5 474.1h2.3M407.6 474.0h2.3M408.7 473.9h2.3M409.8 473.9h2.3M410.9 473.8h2.3M412.1 473.7h2.3M413.2 473.6h2.3M414.3 473.6h2.3M415.4 473.5h2.3M416.5 473.3h2.3M417.6 473.2h2.3M418.8 473.1h2.3M419.9 473.0h2.3M421.0 472.8h2.3M422.1 472.7h2.3M423.2 472.5h2.3M424.3 472.3h2.3M425.5 472.2h2.3M426.6 472.0h2.3M427.7 471.7h2.3M428.8 471.5h2.3M429.9 471.3h2.3M431.0 471.0h2.3M432.2 470.7h2.3M433.3 470.5h2.3M434.4 470.1h2.3M435.5 469.8h2.3M436.6 469.5h2.3M437.7 469.1h2.3M438.9 468.7h2.3M440.0 468.3h2.3M441.1 467.9h2.3M442.2 467.4h2.3M443.3 466.9h2.3M444.4 466.4h2.3M445.6 465.9h2.3M446.7 465.3h2.3M447.8 464.7h2.3M448.9 464.1h2.3M450.0 463.4h2.3M451.1 462.8h2.3M452.3 462.0h2.3M453.4 461.3h2.3M454.5 460.5h2.3M455.6 459.7h2.3M456.7 458.8h2.3M457.8 457.9h2.3M459.0 457.0h2.3M460.1 456.0h2.3M461.2 455.0h2.3M462.3 454.0h2.3M463.4 452.9h2.3M464.5 451.8h2.3M465.7 450.6h2.3M466.8 449.4h2.3M467.9 448.2h2.3M469.0 446.9h2.3M470.1 445.6h2.3M471.2 444.2h2.3M472.4 442.8h2.3M473.5 441.4h2.3M474.6 439.9h2.3M475.7 438.4h2.3M476.8 436.8h2.3M477.9 435.2h2.3M479.1 433.6h2.3M480.2 431.9h2.3M481.3 430.2h2.3M482.4 428.4h2.3M483.5 426.7h2.3M484.6 424.9h2.3M485.8 423.0h2.3M486.9 421.2h2.3M488.0 419.3h2.3M489.1 417.4h2.3M490.2 415.4h2.3M491.3 413.5h2.3M492.5 411.5h2.3M493.6 409.5h2.3M494.7 407.5h2.3M495.8 405.5h2.3M496.9 403.5h2.3M498.0 401.5h2.3M499.2 399.5h2.3M500.3 397.5h2.3M501.4 395.5h2.3M502.5 393.5h2.3M503.6 391.5h2.3M504.7 389.5h2.3M505.9 387.5h2.3M507.0 385.6h2.3M508.1 383.7h2.3M509.2 381.8h2.3M510.3 379.9h2.3M511.4 378.1h2.3M512.6 376.3h2.3M513.7 374.6h2.3M514.8 372.9h2.3M515.9 371.2h2.3M517.0 369.6h2.3M518.1 368.1h2.3M519.3 366.6h2.3M520.4 365.2h2.3M521.5 363.8h2.3M522.6 362.5h2.3M523.7 361.3h2.3M524.8 360.1h2.3M526.0 359.0h2.3M527.1 358.0h2.3M528.2 357.1h2.3M529.3 356.3h2.3M530.4 355.5h2.3M531.5 354.8h2.3M532.7 354.2h2.3M533.8 353.7h2.3M534.9 353.3h2.3M536.0 353.0h2.3M537.1 352.7h2.3M538.2 352.6h2.3M539.4 352.5h2.3M540.5 352.5h2.3M541.6 352.7h2.3M542.7 352.9h2.3M543.8 353.2h2.3M544.9 353.6h2.3M546.1 354.1h2.3M547.2 354.7h2.3M548.3 355.4h2.3M549.4 356.2h2.3M550.5 357.1h2.3M551.6 358.0h2.3M552.8 359.1h2.3M553.9 360.2h2.3M555.0 361.4h2.3M556.1 362.7h2.3M557.2 364.0h2.3M558.3 365.4h2.3M559.5 366.9h2.3M560.6 368.5h2.3M561.7 370.1h2.3M562.8 371.8h2.3M563.9 373.5h2.3M565.0 375.3h2.3M566.2 377.1h2.3M567.3 378.9h2.3M568.4 380.8h2.3M569.5 382.8h2.3M570.6 384.7h2.3M571.7 386.7h2.3M572.9 388.8h2.3M574.0 390.8h2.3M575.1 392.8h2.3M576.2 394.9h2.3M577.3 397.0h2.3M578.4 399.1h2.3M579.6 401.2h2.3M580.7 403.2h2.3M581.8 405.3h2.3M582.9 407.4h2.3M584.0 409.5h2.3M585.1 411.5h2.3M586.3 413.5h2.3M587.4 415.5h2.3M588.5 417.5h2.3M589.6 419.5h2.3M590.7 421.5h2.3M591.8 423.4h2.3M593.0 425.3h2.3M594.1 427.1h2.3M595.2 428.9h2.3M596.3 430.7h2.3M597.4 432.5h2.3M598.5 434.2h2.3M599.7 435.9h2.3M600.8 437.5h2.3M601.9 439.1h2.3M603.0 440.6h2.3M604.1 442.1h2.3M605.2 443.6h2.3M606.4 445.0h2.3M607.5 446.4h2.3M608.6 447.8h2.3M609.7 449.1h2.3M610.8 450.3h2.3M611.9 451.5h2.3M613.1 452.7h2.3M614.2 453.8h2.3M615.3 454.9h2.3M616.4 455.9h2.3M617.5 456.9h2.3M618.6 457.9h2.3M619.8 458.8h2.3M620.9 459.7h2.3M622.0 460.6h2.3M623.1 461.4h2.3M624.2 462.1h2.3M625.3 462.9h2.3M626.5 463.6h2.3M627.6 464.2h2.3M628.7 464.9h2.3M629.8 465.5h2.3M630.9 466.1h2.3M632.0 466.6h2.3M633.2 467.1h2.3M634.3 467.6h2.3M635.4 468.1h2.3M636.5 468.5h2.3M637.6 468.9h2.3M638.7 469.3h2.3M639.9 469.7h2.3M641.0 470.0h2.3M642.1 470.4h2.3M643.2 470.7h2.3M644.3 470.9h2.3M645.4 471.2h2.3M646.6 471.5h2.3M647.7 471.7h2.3M648.8 471.9h2.3M649.9 472.1h2.3M651.0 472.3h2.3M652.1 472.5h2.3M653.3 472.7h2.3M654.4 472.8h2.3M655.5 473.0h2.3M656.6 473.1h2.3M657.7 473.2h2.3M658.8 473.4h2.3M660.0 473.5h2.3M661.1 473.6h2.3M662.2 473.7h2.3M663.3 473.8h2.3M664.4 473.8h2.3M665.5 473.9h2.3M666.7 474.0h2.3M667.8 474.0h2.3M668.9 474.1h2.3M670.0 474.1h2.3M671.1 474.2h2.3M672.2 474.2h2.3M673.4 474.3h2.3M674.5 474.3h2.3M675.6 474.4h2.3M676.7 474.4h2.3M677.8 474.4h2.3M678.9 474.4h2.3M680.1 474.5h2.3M681.2 474.5h2.3M682.3 474.5h2.3M683.4 474.5h2.3M684.5 474.5h2.3M685.6 474.6h2.3M686.8 474.6h2.3M687.9 474.6h2.3M689.0 474.6h2.3M690.1 474.6h2.3M691.2 474.6h2.3M692.3 474.6h2.3M693.5 474.6h2.3M694.6 474.6h2.3M695.7 474.6h2.3M696.8 474.7h2.3M697.9 474.7h2.3M699.0 474.7h2.3M700.2 474.7h2.3M701.3 474.7h2.3M702.4 474.7h2.3M703.5 474.7h2.3M704.6 474.7h2.3M705.7 474.7h2.3M706.9 474.7h2.3M708.0 474.7h2.3M709.1 474.7h2.3M710.2 474.7h2.3M711.3 474.7h2.3M712.4 474.7h2.3M713.6 474.7h2.3M714.7 474.7h2.3M715.8 474.7h2.3M716.9 474.7h2.3M718.0 474.7h2.3M719.1 474.7h2.3M720.3 474.7h2.3" stroke="#2e8b2e" stroke-width="1.3" fill="none"/>
<path d="M385.2 474.7h2.3M386.4 474.7h2.3M387.5 474.7h2.3M388.6 474.7h2.3M389.7 474.7h2.3M390.8 474.7h2.3M392.0 474.7h2.3M393.1 474.7h2.3M394.2 474.7h2.3M395.3 474.7h2.3M396.4 474.7h2.3M397.5 474.7h2.3M398.7 474.7h2.3M399.8 474.7h2.3M400.9 474.7h2.3M402.0 474.7h2.3M403.1 474.7h2.3M404.2 474.7h2.3M405.4 474.7h2.3M406.5 474.7h2.3M407.6 474.7h2.3M408.7 474.7h2.3M409.8 474.7h2.3M410.9 474.7h2.3M412.1 474.7h2.3M413.2 474.7h2.3M414.3 474.7h2.3M415.4 474.7h2.3M416.5 474.7h2.3M417.6 474.7h2.3M418.8 474.7h2.3M419.9 474.7h2.3M421.0 474.7h2.3M422.1 474.7h2.3M423.2 474.7h2.3M424.3 474.7h2.3M425.5 474.7h2.3M426.6 474.7h2.3M427.7 474.7h2.3M428.8 474.7h2.3M429.9 474.7h2.3M431.0 474.7h2.3M432.2 474.7h2.3M433.3 474.7h2.3M434.4 474.7h2.3M435.5 474.7h2.3M436.6 474.7h2.3M437.7 474.7h2.3M438.9 474.7h2.3M440.0 474.7h2.3M441.1 474.7h2.3M442.2 474.7h2.3M443.3 474.7h2.3M444.4 474.7h2.3M445.6 474.7h2.3M446.7 474.7h2.3M447.8 474.7h2.3M448.9 474.7h2.3M450.0 474.7h2.3M451.1 474.7h2.3M452.3 474.7h2.3M453.4 474.7h2.3M454.5 474.7h2.3M455.6 474.7h2.3M456.7 474.7h2.3M457.8 474.7h2.3M459.0 474.7h2.3M460.1 474.7h2.3M461.2 474.7h2.3M462.3 474.7h2.3M463.4 474.7h2.3M464.5 474.7h2.3M465.7 474.7h2.3M466.8 474.7h2.3M467.9 474.7h2.3M469.0 474.7h2.3M470.1 474.7h2.3M471.2 474.7h2.3M472.4 474.7h2.3M473.5 474.7h2.3M474.6 474.7h2.3M475.7 474.7h2.3M476.8 474.7h2.3M477.9 474.7h2.3M479.1 474.7h2.3M480.2 474.7h2.3M481.3 474.7h2.3M482.4 474.7h2.3M483.5 474.7h2.3M484.6 474.7h2.3M485.8 474.7h2.3M486.9 474.7h2.3M488.0 474.7h2.3M489.1 474.7h2.3M490.2 474.7h2.3M491.3 474.7h2.3M492.5 474.7h2.3M493.6 474.7h2.3M494.7 474.7h2.3M495.8 474.7h2.3M496.9 474.7h2.3M498.0 474.7h2.3M499.2 474.7h2.3M500.3 474.7h2.3M501.4 474.7h2.3M502.5 474.7h2.3M503.6 474.7h2.3M504.7 474.7h2.3M505.9 474.7h2.3M507.0 474.7h2.3M508.1 474.7h2.3M509.2 474.7h2.3M510.3 474.7h2.3M511.4 474.7h2.3M512.6 474.7h2.3M513.7 474.7h2.3M514.8 474.7h2.3M515.9 474.7h2.3M517.0 474.7h2.3M518.1 474.7h2.3M519.3 474.7h2.3M520.4 474.7h2.3M521.5 474.7h2.3M522.6 474.7h2.3M523.7 474.7h2.3M524.8 474.7h2.3M526.0 474.7h2.3M527.1 474.7h2.3M528.2 474.7h2.3M529.3 474.7h2.3M530.4 474.7h2.3M531.5 474.7h2.3M532.7 474.7h2.3M533.8 474.7h2.3M534.9 474.7h2.3M536.0 474.7h2.3M537.1 474.7h2.3M538.2 474.7h2.3M539.4 474.7h2.3M540.5 474.7h2.3M541.6 474.7h2.3M542.7 474.7h2.3M543.8 474.7h2.3M544.9 474.7h2.3M546.1 474.7h2.3M547.2 474.7h2.3M548.3 474.7h2.3M549.4 474.7h2.3M550.5 474.7h2.3M551.6 474.7h2.3M552.8 474.7h2.3M553.9 474.7h2.3M555.0 474.7h2.3M556.1 474.7h2.3M557.2 474.7h2.3M558.3 474.6h2.3M559.5 474.6h2.3M560.6 474.6h2.3M561.7 474.6h2.3M562.8 474.6h2.3M563.9 474.6h2.3M565.0 474.5h2.3M566.2 474.5h2.3M567.3 474.4h2.3M568.4 474.4h2.3M569.5 474.3h2.3M570.6 474.3h2.3M571.7 474.2h2.3M572.9 474.1h2.3M574.0 473.9h2.3M575.1 473.8h2.3M576.2 473.6h2.3M577.3 473.5h2.3M578.4 473.3h2.3M579.6 473.0h2.3M580.7 472.7h2.3M581.8 472.4h2.3M582.9 472.1h2.3M584.0 471.7h2.3M585.1 471.2h2.3M586.3 470.7h2.3M587.4 470.2h2.3M588.5 469.6h2.3M589.6 468.9h2.3M590.7 468.2h2.3M591.8 467.4h2.3M593.0 466.5h2.3M594.1 465.6h2.3M595.2 464.6h2.3M596.3 463.5h2.3M597.4 462.3h2.3M598.5 461.1h2.3M599.7 459.8h2.3M600.8 458.4h2.3M601.9 456.9h2.3M603.0 455.4h2.3M604.1 453.9h2.3M605.2 452.2h2.3M606.4 450.6h2.3M607.5 448.9h2.3M608.6 447.2h2.3M609.7 445.5h2.3M610.8 443.7h2.3M611.9 442.0h2.3M613.1 440.3h2.3M614.2 438.7h2.3M615.3 437.1h2.3M616.4 435.6h2.3M617.5 434.1h2.3M618.6 432.7h2.3M619.8 431.5h2.3M620.9 430.3h2.3M622.0 429.3h2.3M623.1 428.4h2.3M624.2 427.7h2.3M625.3 427.1h2.3M626.5 426.7h2.3M627.6 426.5h2.3M628.7 426.4h2.3M629.8 426.5h2.3M630.9 426.8h2.3M632.0 427.4h2.3M633.2 428.3h2.3M634.3 429.4h2.3M635.4 430.6h2.3M636.5 432.1h2.3M637.6 433.7h2.3M638.7 435.5h2.3M639.9 437.4h2.3M641.0 439.4h2.3M642.1 441.5h2.3M643.2 443.6h2.3M644.3 445.7h2.3M645.4 447.8h2.3M646.6 449.9h2.3M647.7 451.9h2.3M648.8 453.9h2.3M649.9 455.8h2.3M651.0 457.7h2.3M652.1 459.4h2.3M653.3 461.0h2.3M654.4 462.6h2.3M655.5 464.0h2.3M656.6 465.3h2.3M657.7 466.4h2.3M658.8 467.5h2.3M660.0 468.5h2.3M661.1 469.3h2.3M662.2 470.1h2.3M663.3 470.8h2.3M664.4 471.4h2.3M665.5 471.9h2.3M666.7 472.3h2.3M667.8 472.7h2.3M668.9 473.1h2.3M670.0 473.4h2.3M671.1 473.6h2.3M672.2 473.8h2.3M673.4 474.0h2.3M674.5 474.1h2.3M675.6 474.2h2.3M676.7 474.3h2.3M677.8 474.4h2.3M678.9 474.5h2.3M680.1 474.5h2.3M681.2 474.6h2.3M682.3 474.6h2.3M683.4 474.6h2.3M684.5 474.6h2.3M685.6 474.6h2.3M686.8 474.7h2.3M687.9 474.7h2.3M689.0 474.7h2.3M690.1 474.7h2.3M691.2 474.7h2.3M692.3 474.7h2.3M693.5 474.7h2.3M694.6 474.7h2.3M695.7 474.7h2.3M696.8 474.7h2.3M697.9 474.7h2.3M699.0 474.7h2.3M700.2 474.7h2.3M701.3 474.7h2.3M702.4 474.7h2.3M703.5 474.7h2.3M704.6 474.7h2.3M705.7 474.7h2.3M706.9 474.7h2.3M708.0 474.7h2.3M709.1 474.7h2.3M710.2 474.7h2.3M711.3 474.7h2.3M712.4 474.7h2.3M713.6 474.7h2.3M714.7 474.7h2.3M715.8 474.7h2.3M716.9 474.7h2.3M718.0 474.7h2.3M719.1 474.7h2.3M720.3 474.7h2.3" stroke="#2e8b2e" stroke-width="1.3" fill="none"/>
<g opacity="0.995"><text x="64.85" y="32.90" font-size="20" textLength="24.45" lengthAdjust="spacingAndGlyphs">(a)</text>
<text x="97.56" y="32.70" font-size="14" textLength="58.55" lengthAdjust="spacingAndGlyphs">DC-SIGN</text>
<text x="241.14" y="95.70" font-size="14" textLength="30.66" lengthAdjust="spacingAndGlyphs">CRD</text>
<text x="203.35" y="207.20" font-size="14" textLength="81.70" lengthAdjust="spacingAndGlyphs">Neck domain</text>
<text x="64.41" y="268.30" font-size="20" textLength="25.23" lengthAdjust="spacingAndGlyphs">(b)</text>
<text x="97.25" y="268.20" font-size="14" textLength="59.28" lengthAdjust="spacingAndGlyphs">DC-SIGN</text>
<text x="137.25" y="345.70" font-size="14" textLength="34.25" lengthAdjust="spacingAndGlyphs">Intact</text>
<text x="115.90" y="361.90" font-size="14" textLength="74.83" lengthAdjust="spacingAndGlyphs">extracellular</text>
<text x="134.79" y="378.10" font-size="14" textLength="39.45" lengthAdjust="spacingAndGlyphs">region</text>
<text x="399.42" y="32.90" font-size="20" textLength="23.95" lengthAdjust="spacingAndGlyphs">(c)</text>
<text x="430.45" y="33.00" font-size="14" textLength="68.98" lengthAdjust="spacingAndGlyphs">DC-SIGNR</text>
<text x="527.65" y="95.80" font-size="14" textLength="30.34" lengthAdjust="spacingAndGlyphs">CRD</text>
<text x="507.21" y="182.50" font-size="14" textLength="84.17" lengthAdjust="spacingAndGlyphs">Neck domain</text>
<text x="399.02" y="268.30" font-size="20" textLength="25.12" lengthAdjust="spacingAndGlyphs">(d)</text>
<text x="431.35" y="268.20" font-size="14" textLength="69.18" lengthAdjust="spacingAndGlyphs">DC-SIGNR</text>
<text x="595.22" y="361.90" font-size="14" textLength="34.98" lengthAdjust="spacingAndGlyphs">Intact</text>
<text x="574.41" y="378.00" font-size="14" textLength="74.22" lengthAdjust="spacingAndGlyphs">extracellular</text>
<text x="593.49" y="394.30" font-size="14" textLength="39.45" lengthAdjust="spacingAndGlyphs">region</text>
<text x="326.35" y="520.30" font-size="16" textLength="123.33" lengthAdjust="spacingAndGlyphs">Temperature (°C)</text>
<text x="15.10" y="331.97" font-size="15.6" textLength="181.40" lengthAdjust="spacingAndGlyphs" transform="rotate(-90 15.10 331.97)">Heat capacity (kJ/K-mole)</text>
<text x="46.25" y="498.50" font-size="14" textLength="15.63" lengthAdjust="spacingAndGlyphs">40</text>
<text x="88.07" y="498.50" font-size="14" textLength="15.63" lengthAdjust="spacingAndGlyphs">45</text>
<text x="129.37" y="498.50" font-size="14" textLength="16.18" lengthAdjust="spacingAndGlyphs">50</text>
<text x="171.20" y="498.50" font-size="14" textLength="16.18" lengthAdjust="spacingAndGlyphs">55</text>
<text x="213.02" y="498.50" font-size="14" textLength="16.18" lengthAdjust="spacingAndGlyphs">60</text>
<text x="254.85" y="498.50" font-size="14" textLength="16.18" lengthAdjust="spacingAndGlyphs">65</text>
<text x="296.67" y="498.50" font-size="14" textLength="16.18" lengthAdjust="spacingAndGlyphs">70</text>
<text x="338.50" y="498.50" font-size="14" textLength="16.18" lengthAdjust="spacingAndGlyphs">75</text>
<text x="380.72" y="498.50" font-size="14" textLength="16.18" lengthAdjust="spacingAndGlyphs">60</text>
<text x="436.56" y="498.50" font-size="14" textLength="16.18" lengthAdjust="spacingAndGlyphs">65</text>
<text x="492.39" y="498.50" font-size="14" textLength="16.18" lengthAdjust="spacingAndGlyphs">70</text>
<text x="548.23" y="498.50" font-size="14" textLength="16.18" lengthAdjust="spacingAndGlyphs">75</text>
<text x="604.33" y="498.50" font-size="14" textLength="15.90" lengthAdjust="spacingAndGlyphs">80</text>
<text x="660.16" y="498.50" font-size="14" textLength="15.90" lengthAdjust="spacingAndGlyphs">85</text>
<text x="715.73" y="498.50" font-size="14" textLength="16.18" lengthAdjust="spacingAndGlyphs">90</text>
<text x="34.35" y="247.85" font-size="14" textLength="7.80" lengthAdjust="spacingAndGlyphs">0</text>
<text x="34.35" y="208.35" font-size="14" textLength="7.80" lengthAdjust="spacingAndGlyphs">5</text>
<text x="25.96" y="169.15" font-size="14" textLength="16.25" lengthAdjust="spacingAndGlyphs">10</text>
<text x="25.96" y="128.15" font-size="14" textLength="16.25" lengthAdjust="spacingAndGlyphs">15</text>
<text x="26.23" y="91.15" font-size="14" textLength="15.96" lengthAdjust="spacingAndGlyphs">20</text>
<text x="26.23" y="50.15" font-size="14" textLength="15.96" lengthAdjust="spacingAndGlyphs">25</text>
<text x="26.50" y="13.65" font-size="14" textLength="15.69" lengthAdjust="spacingAndGlyphs">30</text>
<text x="34.35" y="480.55" font-size="14" textLength="7.80" lengthAdjust="spacingAndGlyphs">0</text>
<text x="34.35" y="441.95" font-size="14" textLength="7.80" lengthAdjust="spacingAndGlyphs">5</text>
<text x="25.96" y="403.15" font-size="14" textLength="16.25" lengthAdjust="spacingAndGlyphs">10</text>
<text x="25.96" y="363.85" font-size="14" textLength="16.25" lengthAdjust="spacingAndGlyphs">15</text>
<text x="26.23" y="325.15" font-size="14" textLength="15.96" lengthAdjust="spacingAndGlyphs">20</text>
<text x="26.23" y="285.85" font-size="14" textLength="15.96" lengthAdjust="spacingAndGlyphs">25</text></g>
</svg>
</body></html>
